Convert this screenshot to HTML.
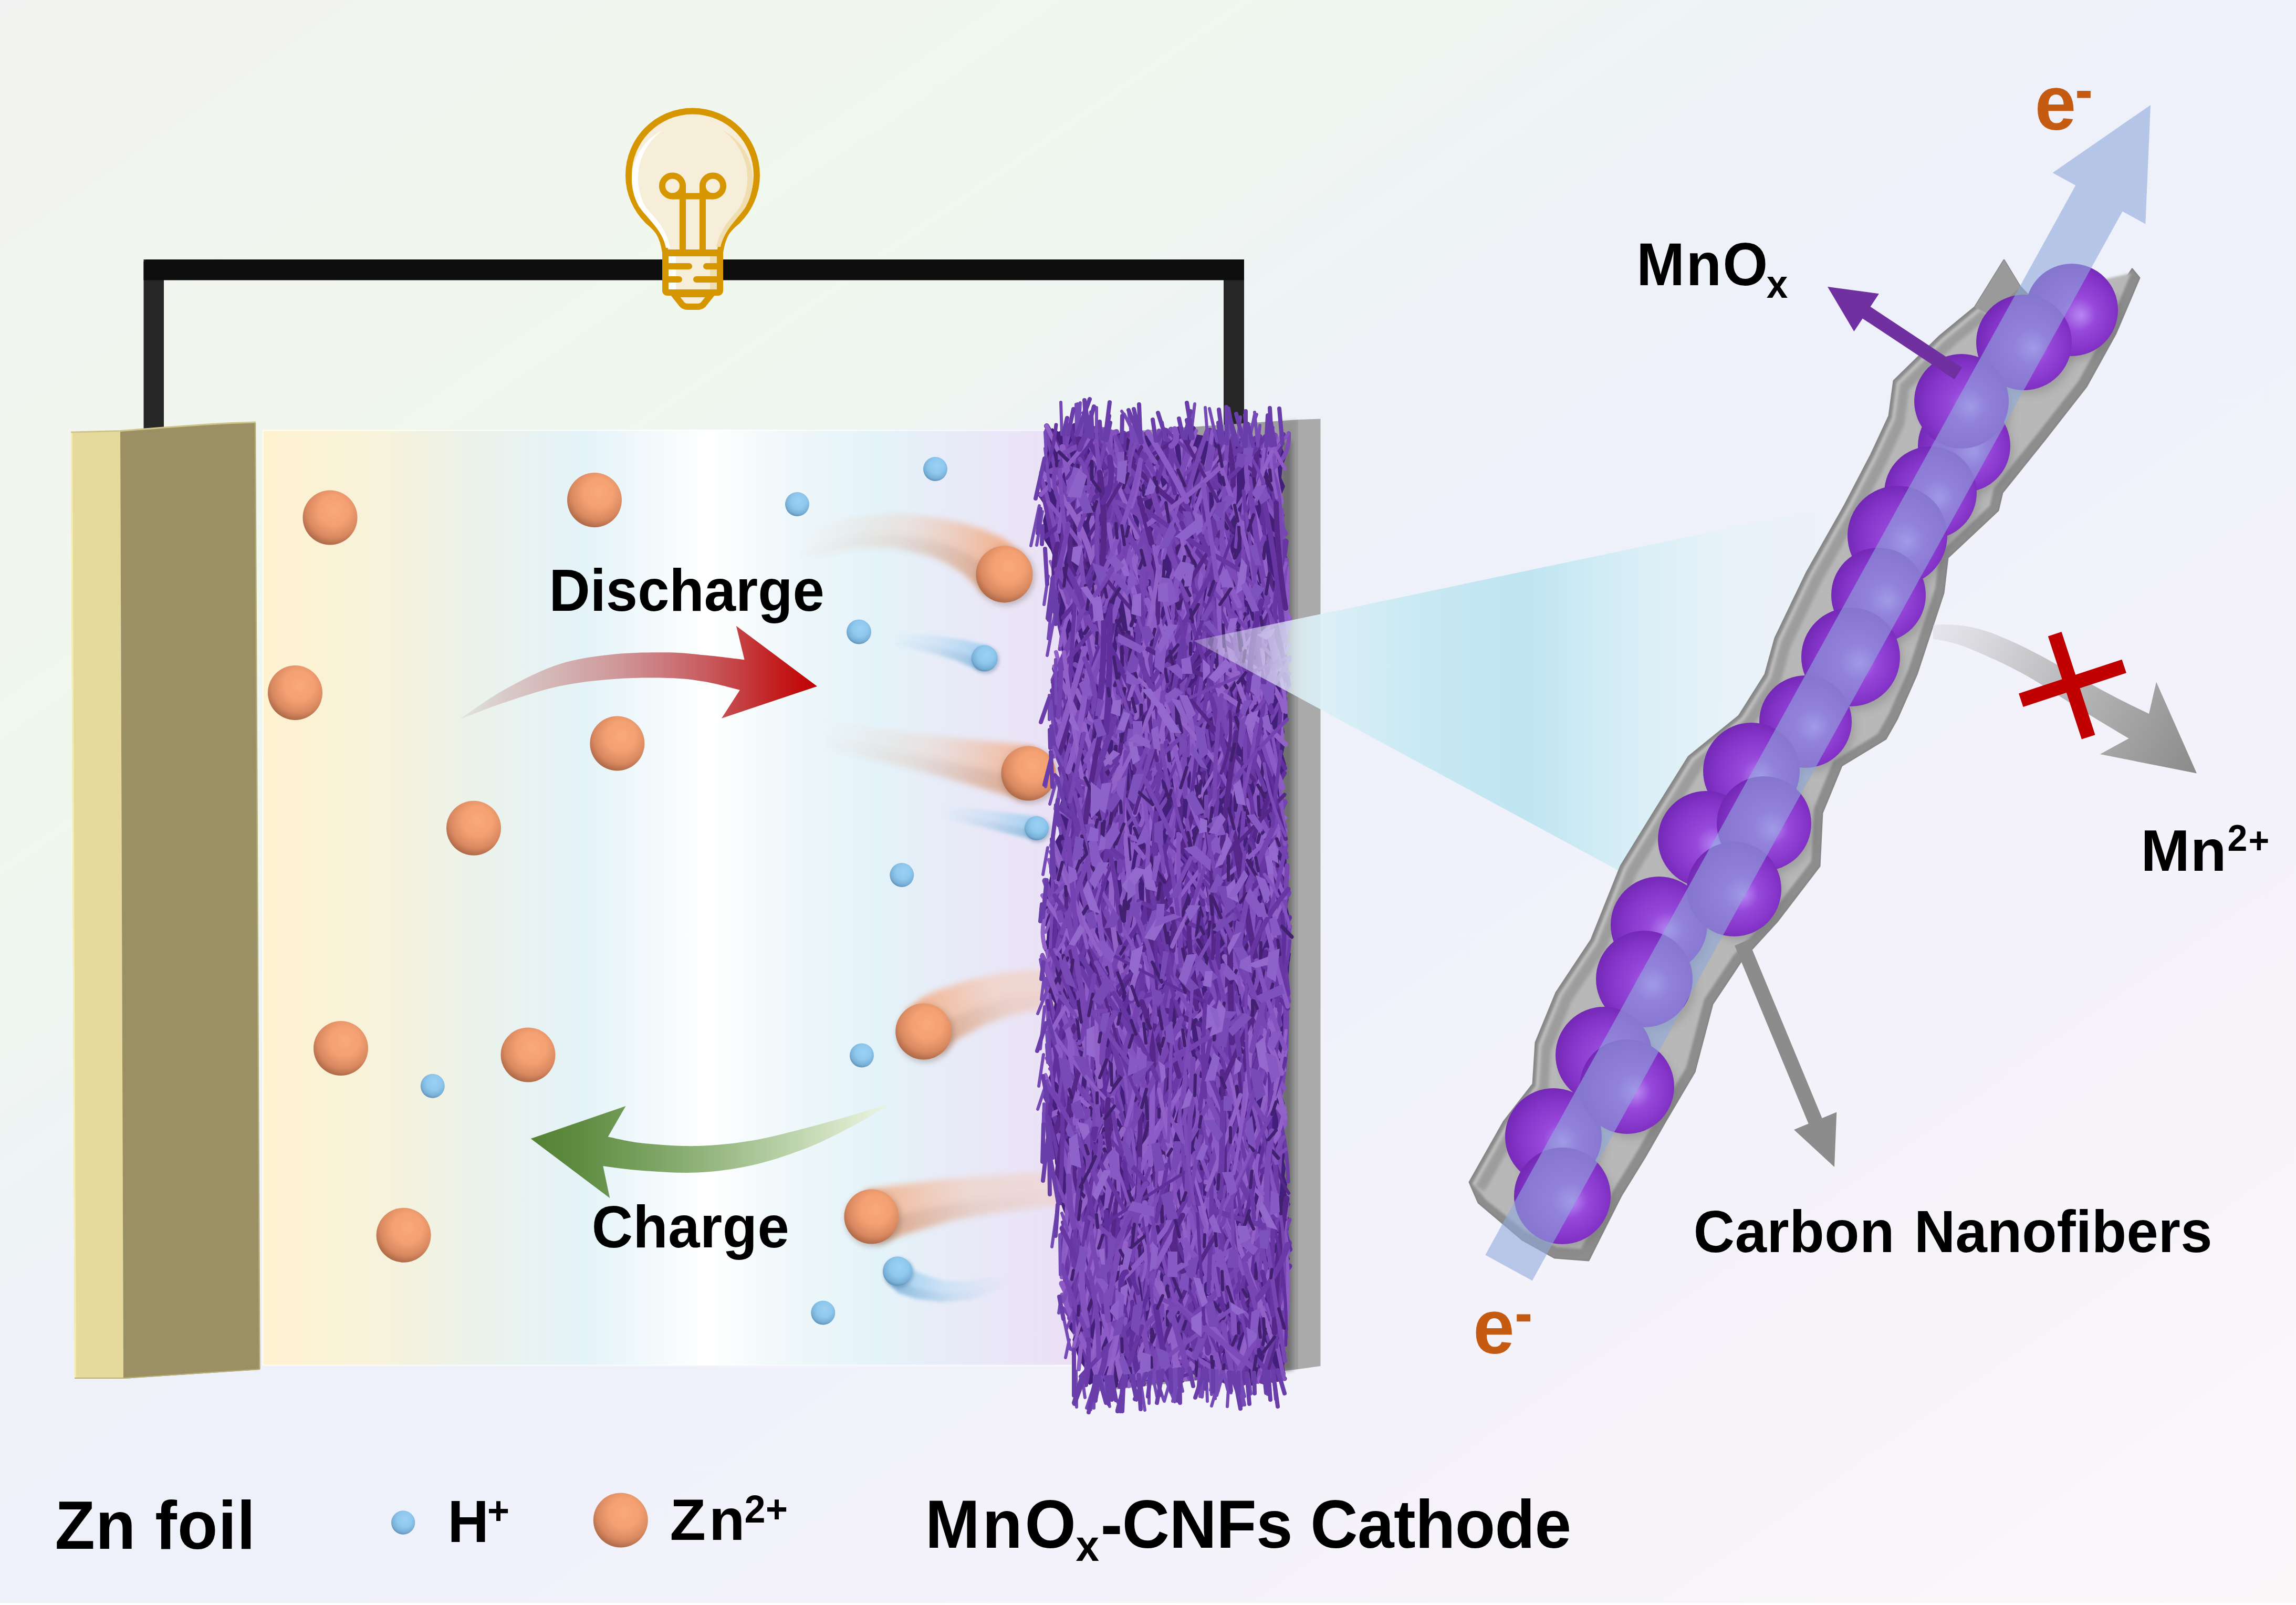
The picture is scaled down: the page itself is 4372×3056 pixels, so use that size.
<!DOCTYPE html>
<html><head><meta charset="utf-8"><title>Zn // MnOx-CNFs battery schematic</title>
<style>
html,body{margin:0;padding:0;background:#fff;}
body{width:4372px;height:3056px;overflow:hidden;}
svg{display:block;}
text{font-family:"Liberation Sans",sans-serif;font-weight:bold;}
</style></head><body>
<svg width="4372" height="3056" viewBox="0 0 4372 3056">
<defs>
<linearGradient id="bg" x1="0" y1="0" x2="1" y2="1">
<stop offset="0" stop-color="#f2f2f2"/><stop offset="0.055" stop-color="#f2f3f0"/>
<stop offset="0.25" stop-color="#f0f8ed"/><stop offset="0.42" stop-color="#eef2f7"/><stop offset="0.5" stop-color="#eef1fa"/>
<stop offset="0.70" stop-color="#f3f2fa"/><stop offset="1" stop-color="#fcf7f9"/>
</linearGradient>
<linearGradient id="elec" gradientUnits="userSpaceOnUse" x1="499" y1="0" x2="2031" y2="0">
<stop offset="0" stop-color="#fff2d0"/><stop offset="0.16" stop-color="#f6f2dc"/>
<stop offset="0.26" stop-color="#ecf2ea"/><stop offset="0.40" stop-color="#e4f3f8"/>
<stop offset="0.555" stop-color="#ffffff"/><stop offset="0.645" stop-color="#f0f8fa"/>
<stop offset="0.765" stop-color="#e4f3f9"/><stop offset="0.86" stop-color="#e8ebf8"/>
<stop offset="1" stop-color="#ebe0f6"/>
</linearGradient>
<radialGradient id="gO" cx="0.56" cy="0.38" r="0.62" fx="0.58" fy="0.36">
<stop offset="0" stop-color="#f9a97a"/><stop offset="0.45" stop-color="#f3a072"/>
<stop offset="0.8" stop-color="#d88860"/><stop offset="1" stop-color="#b06b49"/>
</radialGradient>
<radialGradient id="gB" cx="0.55" cy="0.38" r="0.62" fx="0.57" fy="0.36">
<stop offset="0" stop-color="#9bd0f3"/><stop offset="0.5" stop-color="#8fc8ee"/>
<stop offset="0.85" stop-color="#78afd6"/><stop offset="1" stop-color="#5f93b9"/>
</radialGradient>
<radialGradient id="gP" cx="0.52" cy="0.52" r="0.60" fx="0.60" fy="0.56">
<stop offset="0" stop-color="#b888f4"/><stop offset="0.30" stop-color="#9749da"/>
<stop offset="0.68" stop-color="#8534c9"/><stop offset="1" stop-color="#6a23aa"/>
</radialGradient>
<filter id="b4" x="-20%" y="-20%" width="140%" height="140%"><feGaussianBlur stdDeviation="4"/></filter>
<filter id="b8" x="-20%" y="-40%" width="140%" height="180%"><feGaussianBlur stdDeviation="8"/></filter>
<filter id="b14" x="-20%" y="-50%" width="140%" height="200%"><feGaussianBlur stdDeviation="13"/></filter>
<filter id="b6" x="-20%" y="-40%" width="140%" height="180%"><feGaussianBlur stdDeviation="6"/></filter>
<filter id="b3" x="-20%" y="-40%" width="140%" height="180%"><feGaussianBlur stdDeviation="3"/></filter>
<filter id="b2" x="-10%" y="-10%" width="120%" height="120%"><feGaussianBlur stdDeviation="2"/></filter>
</defs>
<rect x="0" y="0" width="4372" height="3056" fill="url(#bg)"/>
<rect x="0" y="3052" width="4372" height="4" fill="#ffffff"/>
<rect x="273.5" y="494" width="38.5" height="326" fill="#262626"/>
<rect x="2330" y="494" width="39" height="318" fill="#262626"/>
<path d="M273.5,498 L279,494 H2369 V533.5 H273.5 Z" fill="#0e0e0e"/>
<polygon points="2080,826 2472,799 2472,2607 2085,2650" fill="#9e9e9e"/>
<polygon points="2472,799 2514.5,797.5 2514.5,2601 2472,2607" fill="#aaaaaa"/>
<polygon points="2436,803 2468,800 2468,2607 2436,2611" fill="#8a8a8a" opacity="0.45" filter="url(#b3)"/>
<rect x="499" y="818" width="1546" height="1782" fill="url(#elec)"/>
<path d="M500.5,2600 V819.5 H2045" fill="none" stroke="#ffffff" stroke-width="2" opacity="0.8"/>
<path d="M500,2599.5 H2045" fill="none" stroke="#ffffff" stroke-width="2" opacity="0.7"/>
<polygon points="135,823 229,820 235,2625 142,2625" fill="#e5d99c"/>
<polygon points="135,823 138,823 145,2625 142,2625" fill="#f6ecab"/>
<path d="M229,820.5 C330,813 400,806 486.5,804 L495,2608 L235,2625 Z" fill="#9a9063"/>
<path d="M135,823 L229,820.5 C330,813 400,806 486.5,804" fill="none" stroke="#cfc58a" stroke-width="3"/>
<path d="M142,2624 L235,2624 L495,2607" fill="none" stroke="#b8ad74" stroke-width="2"/>
<path d="M486,805 L494.5,2607" fill="none" stroke="#b5ab78" stroke-width="2.5"/>
<linearGradient id="cg1" gradientUnits="userSpaceOnUse" x1="1912" y1="1094" x2="1517" y2="1049"><stop offset="0" stop-color="#f2ad86" stop-opacity="0.95"/><stop offset="0.5" stop-color="#ecd2c4" stop-opacity="0.45125"/><stop offset="1" stop-color="#ecd2c4" stop-opacity="0.0"/></linearGradient><linearGradient id="cs1" gradientUnits="userSpaceOnUse" x1="1912" y1="1094" x2="1517" y2="1049"><stop offset="0" stop-color="#8a6a5c" stop-opacity="0.22"/><stop offset="0.6" stop-color="#8a6a5c" stop-opacity="0.05"/><stop offset="1" stop-color="#8a6a5c" stop-opacity="0"/></linearGradient><path filter="url(#b6)" fill="url(#cg1)" d="M1947.6,1053.4L1910.6,1025.2L1872.8,1008.0L1829.1,994.5L1785.4,985.8L1704.8,977.0L1624.2,984.4L1547.2,1009.2L1509.7,1030.4L1524.3,1067.6L1562.8,1058.8L1633.8,1043.6L1701.2,1043.0L1770.6,1058.2L1800.9,1071.5L1831.2,1090.0L1849.4,1106.8L1876.4,1134.6Z"/><path filter="url(#b6)" fill="url(#cs1)" d="M1904.9,1102.1L1873.9,1074.2L1847.8,1057.2L1812.2,1040.7L1776.5,1029.2L1702.6,1016.6L1630.0,1019.9L1556.6,1039.0L1518.5,1052.7L1524.3,1067.6L1562.8,1058.8L1633.8,1043.6L1701.2,1043.0L1770.6,1058.2L1800.9,1071.5L1831.2,1090.0L1849.4,1106.8L1876.4,1134.6Z"/>
<linearGradient id="cg2" gradientUnits="userSpaceOnUse" x1="1959" y1="1472" x2="1567" y2="1395"><stop offset="0" stop-color="#f2ad86" stop-opacity="0.9"/><stop offset="0.5" stop-color="#ecd2c4" stop-opacity="0.4275"/><stop offset="1" stop-color="#ecd2c4" stop-opacity="0.0"/></linearGradient><linearGradient id="cs2" gradientUnits="userSpaceOnUse" x1="1959" y1="1472" x2="1567" y2="1395"><stop offset="0" stop-color="#8a6a5c" stop-opacity="0.22"/><stop offset="0.6" stop-color="#8a6a5c" stop-opacity="0.05"/><stop offset="1" stop-color="#8a6a5c" stop-opacity="0"/></linearGradient><path filter="url(#b6)" fill="url(#cg2)" d="M1969.4,1421.0L1909.0,1413.9L1827.4,1405.7L1746.3,1396.6L1665.4,1385.5L1609.9,1377.6L1573.5,1370.9L1560.5,1419.1L1598.1,1432.4L1654.6,1444.5L1733.7,1463.4L1812.6,1484.3L1891.0,1506.1L1948.6,1523.0Z"/><path filter="url(#b6)" fill="url(#cs2)" d="M1956.9,1482.2L1898.2,1469.2L1818.5,1452.9L1738.7,1436.7L1658.9,1420.9L1602.8,1410.5L1565.7,1399.8L1560.5,1419.1L1598.1,1432.4L1654.6,1444.5L1733.7,1463.4L1812.6,1484.3L1891.0,1506.1L1948.6,1523.0Z"/>
<linearGradient id="cg3" gradientUnits="userSpaceOnUse" x1="1759" y1="1964" x2="2040" y2="1883"><stop offset="0" stop-color="#f2ad86" stop-opacity="0.9"/><stop offset="0.5" stop-color="#f2cdbb" stop-opacity="0.6887500000000001"/><stop offset="1" stop-color="#f2cdbb" stop-opacity="0.55"/></linearGradient><linearGradient id="cs3" gradientUnits="userSpaceOnUse" x1="1759" y1="1964" x2="2040" y2="1883"><stop offset="0" stop-color="#8a6a5c" stop-opacity="0.22"/><stop offset="0.6" stop-color="#8a6a5c" stop-opacity="0.05"/><stop offset="1" stop-color="#8a6a5c" stop-opacity="0"/></linearGradient><path filter="url(#b6)" fill="url(#cg3)" d="M1724.8,1923.5L1755.4,1899.3L1787.4,1884.4L1843.0,1866.6L1897.6,1854.6L1952.1,1847.3L1992.6,1846.0L2039.2,1846.0L2040.8,1920.0L1995.4,1922.0L1961.9,1924.7L1916.4,1935.4L1873.0,1951.4L1828.6,1975.6L1814.6,1984.7L1793.2,2004.5Z"/><path filter="url(#b6)" fill="url(#cs3)" d="M1765.8,1972.1L1790.9,1950.5L1812.1,1939.1L1861.0,1917.5L1908.9,1903.1L1958.0,1893.7L1994.3,1891.6L2040.2,1890.4L2040.8,1920.0L1995.4,1922.0L1961.9,1924.7L1916.4,1935.4L1873.0,1951.4L1828.6,1975.6L1814.6,1984.7L1793.2,2004.5Z"/>
<linearGradient id="cg4" gradientUnits="userSpaceOnUse" x1="1659" y1="2316" x2="2040" y2="2262"><stop offset="0" stop-color="#f2ad86" stop-opacity="0.9"/><stop offset="0.5" stop-color="#f0cfc0" stop-opacity="0.64125"/><stop offset="1" stop-color="#f0cfc0" stop-opacity="0.45"/></linearGradient><linearGradient id="cs4" gradientUnits="userSpaceOnUse" x1="1659" y1="2316" x2="2040" y2="2262"><stop offset="0" stop-color="#8a6a5c" stop-opacity="0.22"/><stop offset="0.6" stop-color="#8a6a5c" stop-opacity="0.05"/><stop offset="1" stop-color="#8a6a5c" stop-opacity="0"/></linearGradient><path filter="url(#b6)" fill="url(#cg4)" d="M1647.6,2265.3L1720.3,2255.0L1801.8,2244.5L1903.2,2237.2L1979.5,2231.6L2038.3,2230.0L2041.7,2294.0L1984.5,2298.4L1910.8,2306.8L1814.2,2323.5L1739.7,2345.0L1670.4,2366.7Z"/><path filter="url(#b6)" fill="url(#cs4)" d="M1661.3,2326.1L1731.9,2309.0L1809.2,2291.9L1907.8,2279.0L1982.5,2271.7L2040.3,2268.4L2041.7,2294.0L1984.5,2298.4L1910.8,2306.8L1814.2,2323.5L1739.7,2345.0L1670.4,2366.7Z"/>
<linearGradient id="cg5" gradientUnits="userSpaceOnUse" x1="1875" y1="1254" x2="1698" y2="1218"><stop offset="0" stop-color="#9ccdf0" stop-opacity="0.95"/><stop offset="0.5" stop-color="#b4d8f2" stop-opacity="0.45125"/><stop offset="1" stop-color="#b4d8f2" stop-opacity="0.0"/></linearGradient><linearGradient id="cs5" gradientUnits="userSpaceOnUse" x1="1875" y1="1254" x2="1698" y2="1218"><stop offset="0" stop-color="#5580a8" stop-opacity="0.22"/><stop offset="0.6" stop-color="#5580a8" stop-opacity="0.05"/><stop offset="1" stop-color="#5580a8" stop-opacity="0"/></linearGradient><path filter="url(#b3)" fill="url(#cg5)" d="M1883.1,1230.3L1833.6,1217.8L1781.0,1210.3L1729.5,1207.1L1698.6,1209.0L1697.4,1227.0L1726.5,1232.9L1775.0,1243.7L1822.4,1258.2L1866.9,1277.7Z"/><path filter="url(#b3)" fill="url(#cs5)" d="M1873.4,1258.7L1826.9,1242.0L1777.4,1230.3L1727.7,1222.6L1697.9,1219.8L1697.4,1227.0L1726.5,1232.9L1775.0,1243.7L1822.4,1258.2L1866.9,1277.7Z"/>
<linearGradient id="cg6" gradientUnits="userSpaceOnUse" x1="1974" y1="1577" x2="1790" y2="1543"><stop offset="0" stop-color="#9ccdf0" stop-opacity="0.95"/><stop offset="0.5" stop-color="#b4d8f2" stop-opacity="0.45125"/><stop offset="1" stop-color="#b4d8f2" stop-opacity="0.0"/></linearGradient><linearGradient id="cs6" gradientUnits="userSpaceOnUse" x1="1974" y1="1577" x2="1790" y2="1543"><stop offset="0" stop-color="#5580a8" stop-opacity="0.22"/><stop offset="0.6" stop-color="#5580a8" stop-opacity="0.05"/><stop offset="1" stop-color="#5580a8" stop-opacity="0"/></linearGradient><path filter="url(#b3)" fill="url(#cg6)" d="M1977.9,1555.4L1933.6,1549.3L1883.0,1543.3L1842.3,1539.2L1805.2,1536.2L1792.4,1535.4L1787.6,1550.6L1800.8,1557.8L1837.7,1566.8L1877.0,1576.7L1926.4,1588.7L1970.1,1598.6Z"/><path filter="url(#b3)" fill="url(#cs6)" d="M1973.2,1581.3L1929.3,1572.9L1879.4,1563.3L1839.5,1555.8L1802.6,1549.2L1789.5,1544.5L1787.6,1550.6L1800.8,1557.8L1837.7,1566.8L1877.0,1576.7L1926.4,1588.7L1970.1,1598.6Z"/>
<linearGradient id="cg7" gradientUnits="userSpaceOnUse" x1="1709" y1="2420" x2="1915" y2="2436"><stop offset="0" stop-color="#9ccdf0" stop-opacity="0.95"/><stop offset="0.5" stop-color="#b4d8f2" stop-opacity="0.45125"/><stop offset="1" stop-color="#b4d8f2" stop-opacity="0.0"/></linearGradient><linearGradient id="cs7" gradientUnits="userSpaceOnUse" x1="1709" y1="2420" x2="1915" y2="2436"><stop offset="0" stop-color="#5580a8" stop-opacity="0.22"/><stop offset="0.6" stop-color="#5580a8" stop-opacity="0.05"/><stop offset="1" stop-color="#5580a8" stop-opacity="0"/></linearGradient><path filter="url(#b3)" fill="url(#cg7)" d="M1730.9,2402.5L1739.9,2418.7L1758.2,2426.8L1797.5,2439.1L1842.5,2439.2L1884.0,2432.6L1912.2,2428.5L1917.8,2443.5L1892.0,2459.4L1847.5,2474.8L1794.5,2478.9L1745.8,2473.2L1710.1,2461.3L1687.1,2437.5Z"/><path filter="url(#b3)" fill="url(#cs7)" d="M1704.6,2423.5L1722.0,2444.3L1750.8,2454.6L1795.7,2463.0L1845.5,2460.6L1888.8,2448.7L1915.6,2437.5L1917.8,2443.5L1892.0,2459.4L1847.5,2474.8L1794.5,2478.9L1745.8,2473.2L1710.1,2461.3L1687.1,2437.5Z"/>
<circle cx="1915.5" cy="1097.4" r="55" fill="#6e5648" opacity="0.35" filter="url(#b6)"/>
<circle cx="1961.5" cy="1476.5" r="53" fill="#6e5648" opacity="0.35" filter="url(#b6)"/>
<circle cx="1761.7" cy="1968" r="54.5" fill="#6e5648" opacity="0.35" filter="url(#b6)"/>
<circle cx="1662.4" cy="2320.4" r="53" fill="#6e5648" opacity="0.35" filter="url(#b6)"/>
<circle cx="1876.7" cy="1256.5" r="26" fill="#456a8a" opacity="0.35" filter="url(#b3)"/>
<circle cx="1976" cy="1580" r="24" fill="#456a8a" opacity="0.35" filter="url(#b3)"/>
<circle cx="1711" cy="2423.5" r="29" fill="#456a8a" opacity="0.35" filter="url(#b3)"/>
<circle cx="628.5" cy="985.5" r="52" fill="url(#gO)"/>
<circle cx="1132" cy="952" r="52" fill="url(#gO)"/>
<circle cx="562" cy="1319" r="52" fill="url(#gO)"/>
<circle cx="1175.4" cy="1415.5" r="52" fill="url(#gO)"/>
<circle cx="902" cy="1576.7" r="52" fill="url(#gO)"/>
<circle cx="649" cy="1996" r="52" fill="url(#gO)"/>
<circle cx="1005.5" cy="2008.4" r="52" fill="url(#gO)"/>
<circle cx="768.6" cy="2351.8" r="52" fill="url(#gO)"/>
<circle cx="1912.5" cy="1093.4" r="54" fill="url(#gO)"/>
<circle cx="1958.5" cy="1472.5" r="52" fill="url(#gO)"/>
<circle cx="1758.7" cy="1964" r="53.5" fill="url(#gO)"/>
<circle cx="1659.4" cy="2316.4" r="52" fill="url(#gO)"/>
<circle cx="1518" cy="960" r="23" fill="url(#gB)"/>
<circle cx="1781" cy="893" r="23" fill="url(#gB)"/>
<circle cx="1635.5" cy="1203" r="23.5" fill="url(#gB)"/>
<circle cx="1874.7" cy="1253.5" r="25" fill="url(#gB)"/>
<circle cx="1974" cy="1577" r="23" fill="url(#gB)"/>
<circle cx="1717.3" cy="1666" r="23" fill="url(#gB)"/>
<circle cx="1641" cy="2009.5" r="23" fill="url(#gB)"/>
<circle cx="823.8" cy="2067.8" r="23" fill="url(#gB)"/>
<circle cx="1709" cy="2420.5" r="28" fill="url(#gB)"/>
<circle cx="1567.3" cy="2499.4" r="23" fill="url(#gB)"/>
<linearGradient id="gRed" gradientUnits="userSpaceOnUse" x1="876" y1="0" x2="1558" y2="0">
<stop offset="0" stop-color="#cfc4c0" stop-opacity="0.3"/><stop offset="0.12" stop-color="#d6c4c2" stop-opacity="0.85"/>
<stop offset="0.28" stop-color="#d3b2b2"/><stop offset="0.43" stop-color="#cf999b"/><stop offset="0.58" stop-color="#cb7679"/>
<stop offset="0.69" stop-color="#c75a5d"/><stop offset="0.80" stop-color="#c43a3c"/><stop offset="0.89" stop-color="#c21c1d"/><stop offset="1" stop-color="#c00000"/></linearGradient>
<path fill="url(#gRed)" d="M875.7,1369.5C889.7,1360.2 928.0,1331.2 959.4,1313.8C990.8,1296.4 1029.1,1276.3 1063.9,1265.0C1098.7,1253.7 1133.6,1249.6 1168.4,1245.8C1203.2,1242.0 1244.0,1242.0 1273.0,1242.3C1302.0,1242.6 1318.5,1245.3 1342.6,1247.6C1366.7,1249.9 1405.1,1254.8 1417.6,1256.3L1401.9,1191.8L1555.9,1306.8L1374,1367.8L1408.9,1313.8C1397.9,1311.2 1365.2,1301.8 1342.6,1298.0C1319.9,1294.2 1302.0,1291.8 1273.0,1291.0C1244.0,1290.2 1203.2,1290.3 1168.4,1292.9C1133.6,1295.5 1098.7,1299.3 1063.9,1306.8C1029.1,1314.3 990.8,1327.5 959.4,1338.0C928.0,1348.5 889.7,1364.2 875.7,1369.5Z"/>
<linearGradient id="gGrn" gradientUnits="userSpaceOnUse" x1="1010.7" y1="0" x2="1699.5" y2="0">
<stop offset="0" stop-color="#548235"/><stop offset="0.13" stop-color="#5f8b41"/><stop offset="0.31" stop-color="#78a05e"/>
<stop offset="0.46" stop-color="#8fb279"/><stop offset="0.61" stop-color="#a9c596"/><stop offset="0.765" stop-color="#c4d9b4"/>
<stop offset="0.89" stop-color="#dbe9cd"/><stop offset="1" stop-color="#eaf3df" stop-opacity="0.7"/></linearGradient>
<path fill="url(#gGrn)" d="M1699.5,2100.0C1687.0,2103.8 1651.6,2114.9 1624.6,2122.7C1597.6,2130.5 1569.4,2138.9 1537.5,2147.0C1505.6,2155.1 1467.8,2165.7 1433.0,2171.5C1398.2,2177.3 1363.2,2181.1 1328.4,2182.0C1293.6,2182.9 1252.4,2179.6 1223.9,2176.7C1195.5,2173.8 1168.7,2166.5 1157.7,2164.5L1191.5,2106L1010.7,2168L1161.2,2281.3L1148.3,2220.3C1160.9,2221.8 1193.9,2227.0 1223.9,2229.0C1253.9,2231.0 1293.6,2234.2 1328.4,2232.5C1363.2,2230.8 1398.2,2226.3 1433.0,2218.5C1467.8,2210.7 1505.6,2197.9 1537.5,2185.4C1569.4,2172.9 1597.6,2157.8 1624.6,2143.6C1651.6,2129.4 1687.0,2107.3 1699.5,2100.0Z"/>

<rect x="2438" y="840" width="22" height="1770" fill="#444" opacity="0.45" filter="url(#b4)"/>
<polygon fill="#431f7c" points="2003,815 2016,822 2028,815 2041,810 2054,818 2068,812 2080,814 2094,826 2104,833 2119,830 2133,824 2142,830 2151,825 2162,823 2174,829 2189,829 2202,827 2216,824 2227,832 2243,828 2257,819 2268,819 2277,827 2289,829 2301,833 2315,820 2326,836 2338,840 2350,827 2363,840 2374,830 2386,845 2400,831 2411,830 2420,840 2430,835 2442,828 2443,820 2442,838 2442,855 2449,869 2442,889 2440,910 2447,926 2439,945 2440,966 2446,981 2442,996 2440,1009 2442,1027 2445,1045 2451,1061 2448,1078 2446,1099 2454,1113 2448,1133 2454,1147 2449,1168 2456,1189 2452,1208 2448,1221 2450,1242 2450,1261 2453,1281 2448,1296 2446,1316 2451,1330 2450,1350 2452,1365 2443,1379 2446,1394 2443,1407 2446,1422 2443,1436 2449,1456 2445,1475 2439,1493 2438,1505 2445,1526 2439,1548 2444,1566 2443,1586 2441,1608 2449,1625 2450,1646 2452,1665 2448,1686 2455,1705 2451,1726 2456,1746 2454,1763 2454,1779 2449,1797 2458,1816 2455,1837 2454,1852 2451,1870 2446,1891 2445,1910 2448,1928 2450,1942 2448,1959 2443,1981 2443,1993 2441,2012 2448,2025 2443,2044 2441,2065 2440,2083 2446,2100 2447,2121 2445,2137 2441,2152 2449,2169 2449,2189 2445,2211 2448,2225 2446,2239 2451,2255 2449,2272 2457,2293 2448,2309 2456,2322 2455,2334 2451,2352 2448,2372 2452,2385 2456,2397 2449,2412 2453,2424 2452,2441 2453,2459 2451,2481 2448,2495 2443,2508 2449,2525 2444,2539 2447,2554 2446,2572 2443,2591 2447,2611 2447,2624 2448,2613 2436,2623 2420,2621 2407,2631 2393,2633 2381,2629 2370,2630 2355,2628 2341,2620 2326,2631 2310,2622 2296,2617 2280,2625 2269,2612 2257,2619 2243,2619 2233,2625 2224,2626 2214,2620 2199,2619 2189,2627 2175,2634 2161,2638 2149,2640 2139,2629 2126,2631 2112,2637 2100,2639 2087,2630 2075,2637 2063,2628 2067,2607 2055,2590 2050,2576 2046,2559 2048,2547 2036,2530 2035,2510 2034,2493 2031,2480 2035,2464 2025,2443 2023,2426 2033,2410 2028,2389 2024,2374 2034,2355 2032,2342 2023,2330 2029,2316 2023,2300 2017,2282 2014,2263 2013,2246 2014,2232 2009,2215 2008,2199 2001,2186 2004,2167 2004,2150 2002,2132 2000,2118 2001,2098 1993,2082 1992,2061 2003,2039 1995,2026 1997,2007 2005,1994 2006,1977 2001,1964 1996,1945 2005,1931 2008,1910 2000,1897 1998,1877 1992,1859 1989,1846 1994,1833 1992,1816 1985,1803 1993,1789 1994,1767 1982,1754 1988,1732 1988,1713 1993,1696 1997,1680 2000,1668 1997,1647 2008,1631 2003,1615 2010,1601 2017,1589 2017,1569 2018,1548 2018,1532 2024,1515 2013,1495 2019,1474 2018,1454 2018,1438 2013,1417 2013,1398 2011,1382 2006,1369 2001,1352 2010,1337 2006,1318 2014,1297 2015,1282 2015,1264 2023,1248 2020,1230 2025,1210 2021,1198 2015,1178 2012,1162 2015,1148 2012,1135 2013,1114 2016,1097 2012,1080 2006,1061 2001,1048 1989,1029 1988,1008 1986,991 1991,974 1995,961 1989,945 1987,927 1992,912 1988,895 1990,875 1990,863 1990,851 1995,831"/>
<path fill="none" stroke="#552789" stroke-width="9" stroke-linecap="round" d="M2064,1680Q2033,1751 2030,1818M2440,2187Q2419,2242 2433,2299M2155,2441Q2159,2539 2172,2631M2058,848Q2074,953 2097,1061M2269,2298Q2301,2355 2307,2425"/>
<path fill="none" stroke="#6a3aa7" stroke-width="8" stroke-linecap="round" d="M2130,915Q2113,953 2123,1004M2100,1693Q2116,1780 2118,1864M2253,1861Q2183,1942 2112,2020M2282,2322Q2313,2425 2320,2539M2128,1162Q2159,1267 2177,1376M2301,1841Q2320,1881 2330,1931M2359,1533Q2350,1583 2343,1642M2133,1087Q2146,1124 2149,1165M2206,2021Q2188,2154 2209,2280M2337,1784Q2337,1895 2334,2021M2139,1248Q2182,1284 2210,1315M2270,2355Q2295,2470 2297,2585M2284,2394Q2318,2462 2366,2516M2175,2483Q2163,2536 2153,2593M2386,1895Q2423,2014 2447,2134M2140,824Q2140,857 2104,880M2143,902Q2127,931 2099,948M2205,2079Q2187,2131 2151,2198M2161,2497Q2129,2534 2104,2571"/>
<path fill="none" stroke="#7d4bb8" stroke-width="9" stroke-linecap="round" d="M2011,1537Q2080,1586 2136,1635M2350,1502Q2351,1536 2352,1571M2242,1929Q2256,1994 2269,2051M2440,971Q2448,1092 2450,1208M2096,955Q2144,1062 2166,1175M2258,978Q2289,1076 2341,1185M2195,1925Q2201,1961 2201,2014M2251,1723Q2281,1772 2314,1830M2203,1754Q2172,1868 2146,1981"/>
<path fill="none" stroke="#5f309c" stroke-width="9" stroke-linecap="round" d="M2307,2465Q2289,2513 2270,2554M2284,1048Q2268,1151 2249,1266M2333,2262Q2318,2384 2302,2509"/>
<path fill="none" stroke="#8d5bc5" stroke-width="6" stroke-linecap="round" d="M2132,1025Q2133,1114 2117,1222M2062,1265Q2064,1381 2075,1492M2396,2209Q2385,2310 2351,2426M2022,2336Q2043,2427 2067,2508M2144,1429Q2124,1563 2131,1673M2373,1064Q2407,1124 2455,1186M2201,1799Q2195,1841 2170,1863M2367,1751Q2379,1803 2387,1840M2429,829Q2390,893 2374,966"/>
<path fill="none" stroke="#9362c9" stroke-width="7" stroke-linecap="round" d="M2297,2079Q2298,2161 2284,2248M2434,2061Q2389,2152 2364,2249M2189,861Q2209,915 2216,960M2338,1097Q2306,1168 2268,1235M2354,2472Q2381,2529 2420,2573"/>
<path fill="none" stroke="#8d5bc5" stroke-width="11" stroke-linecap="round" d="M2024,2177Q2071,2232 2122,2282M2319,2536Q2318,2572 2327,2606M2455,1177Q2423,1255 2412,1329M2453,1887Q2413,1994 2363,2104M2089,2041Q2105,2090 2127,2124M2391,1243Q2380,1286 2384,1340M2022,2444Q2069,2538 2094,2640"/>
<path fill="none" stroke="#7443b1" stroke-width="6" stroke-linecap="round" d="M2393,2140Q2431,2256 2456,2373M2009,925Q2035,955 2078,978M2042,1357Q2079,1419 2110,1487M2196,1622Q2226,1681 2276,1747M2201,999Q2223,1049 2245,1098M2068,2414Q2073,2521 2066,2637M2207,1625Q2172,1740 2173,1862M2416,2291Q2387,2357 2359,2410M2128,2503Q2140,2565 2172,2635M2384,1636Q2303,1723 2235,1798"/>
<path fill="none" stroke="#6736a3" stroke-width="6" stroke-linecap="round" d="M2349,828Q2337,926 2342,1016M2131,2590Q2137,2627 2157,2638M2258,1081Q2282,1142 2310,1193M2194,2398Q2277,2495 2370,2586M2145,1361Q2074,1465 2009,1561M2015,1747Q2006,1788 2004,1820M2012,1166Q2029,1278 2097,1392M2375,831Q2336,849 2326,861M2423,935Q2432,997 2451,1080M2221,819Q2195,886 2169,952M2336,1256Q2340,1339 2352,1413M2341,1595Q2324,1711 2265,1829"/>
<path fill="none" stroke="#6736a3" stroke-width="7" stroke-linecap="round" d="M2274,1155Q2256,1193 2258,1230M2333,1687Q2330,1726 2358,1767M2271,1645Q2215,1745 2179,1846M2091,931Q2073,1004 2087,1091M2263,1912Q2245,2026 2206,2153"/>
<path fill="none" stroke="#6a3aa7" stroke-width="6" stroke-linecap="round" d="M2023,2327Q2048,2422 2067,2506M2003,1323Q2013,1426 2048,1524M2276,1373Q2303,1495 2318,1616M2246,817Q2198,912 2180,1020M2082,2028Q2073,2076 2080,2128M2351,1979Q2316,2050 2286,2127M2393,1415Q2397,1515 2450,1626M2022,2348Q2035,2408 2050,2476M2285,1293Q2276,1367 2257,1433"/>
<path fill="none" stroke="#7443b1" stroke-width="11" stroke-linecap="round" d="M2447,1867Q2454,1986 2438,2081M2297,910Q2286,959 2297,1000M2404,1238Q2307,1320 2222,1414M2059,1898Q2084,1958 2093,2003M2155,1937Q2190,1992 2216,2051M2031,809Q2021,863 2057,932M2209,1777Q2196,1851 2197,1921M2288,1391Q2271,1479 2263,1578"/>
<path fill="none" stroke="#7846b3" stroke-width="11" stroke-linecap="round" d="M2249,2575Q2257,2596 2260,2624M2048,1394Q2089,1478 2134,1575M1990,1677Q2025,1778 2050,1866M2344,1232Q2334,1262 2334,1294M1996,1961Q2083,2008 2147,2040M2377,831Q2400,930 2447,1016M2154,2089Q2138,2154 2122,2223"/>
<path fill="none" stroke="#6736a3" stroke-width="11" stroke-linecap="round" d="M2448,1031Q2433,1145 2424,1269M2235,1603Q2221,1693 2220,1780M2347,1967Q2320,2064 2287,2152M2069,816Q2111,864 2159,916M2297,2378Q2329,2417 2344,2444M2248,2487Q2264,2538 2260,2610M2300,1030Q2357,1096 2414,1165"/>
<path fill="none" stroke="#9362c9" stroke-width="9" stroke-linecap="round" d="M2283,1630Q2289,1683 2300,1732M2072,1262Q2060,1336 2060,1410M2442,1560Q2422,1624 2433,1688M2447,1304Q2435,1358 2441,1403"/>
<path fill="none" stroke="#8553bf" stroke-width="10" stroke-linecap="round" d="M2299,2101Q2305,2150 2293,2189M2137,1218Q2118,1293 2074,1403M2338,839Q2355,900 2349,958M2191,2170Q2222,2274 2257,2375M2009,1478Q2070,1554 2131,1640M2383,1198Q2388,1220 2371,1258M2230,934Q2208,1004 2160,1088M2151,2082Q2160,2150 2180,2209"/>
<path fill="none" stroke="#8553bf" stroke-width="7" stroke-linecap="round" d="M2279,1843Q2287,1898 2297,1975M1993,2015Q2059,2114 2132,2212M2172,1542Q2187,1584 2185,1627M2374,2138Q2403,2268 2415,2390M2185,1746Q2194,1801 2227,1848M2348,2392Q2376,2474 2387,2571M2353,2028Q2301,2126 2273,2237M2058,2260Q2078,2340 2077,2395M2200,1389Q2190,1487 2194,1571M2320,823Q2341,869 2324,898"/>
<path fill="none" stroke="#6736a3" stroke-width="10" stroke-linecap="round" d="M2055,2377Q2050,2425 2065,2482M1990,2086Q2016,2142 2041,2218M2079,2257Q2122,2362 2168,2471M2022,2382Q2043,2477 2070,2590M2231,1996Q2240,2099 2260,2201M2025,1604Q2039,1637 2040,1663"/>
<path fill="none" stroke="#7846b3" stroke-width="10" stroke-linecap="round" d="M2263,1850Q2240,1898 2272,1940M2124,2485Q2130,2555 2140,2627M2440,2098Q2439,2213 2426,2334M2168,1369Q2115,1440 2065,1519M2336,826Q2297,906 2257,980M2174,958Q2201,1074 2238,1160M2086,2055Q2101,2105 2083,2172M2209,1305Q2182,1370 2173,1423M2129,2275Q2092,2309 2069,2358"/>
<path fill="none" stroke="#5f309c" stroke-width="8" stroke-linecap="round" d="M2107,1867Q2102,1915 2137,1967M2273,2224Q2287,2246 2317,2278M2031,1946Q2026,1978 2027,2011M2038,929Q2067,1022 2076,1107M2099,2248Q2067,2323 2046,2391M2444,827Q2422,923 2396,1007M2336,1214Q2344,1270 2365,1349M2204,2246Q2226,2338 2273,2436M2342,1263Q2292,1352 2252,1447M2256,1766Q2246,1838 2221,1911M2241,1558Q2226,1628 2222,1698M2135,849Q2200,941 2252,1032M2371,1188Q2344,1241 2351,1307M2105,1261Q2123,1329 2171,1397M2008,1726Q2015,1805 1993,1890M2250,816Q2167,895 2106,980M2170,1320Q2164,1362 2150,1388M2030,1838Q2026,1917 2016,1972M2141,1382Q2146,1483 2166,1566M2131,2277Q2130,2313 2138,2340M2319,1617Q2279,1711 2252,1803M2088,1957Q2099,2053 2135,2126"/>
<path fill="none" stroke="#9362c9" stroke-width="10" stroke-linecap="round" d="M2245,1822Q2261,1899 2266,1978M2208,1675Q2209,1706 2220,1741M2248,2104Q2217,2208 2192,2319M2083,2077Q2034,2109 1991,2128M2053,2311Q2091,2379 2118,2436M2169,2397Q2136,2417 2116,2426M2270,2474Q2236,2538 2234,2609M2217,2145Q2230,2251 2243,2362M2030,1761Q2021,1846 2034,1941M2277,2120Q2299,2186 2296,2250"/>
<path fill="none" stroke="#8d5bc5" stroke-width="10" stroke-linecap="round" d="M2222,1612Q2243,1660 2280,1720M2230,834Q2238,917 2278,1005M1995,1812Q2021,1917 2053,2020M2152,1000Q2140,1051 2093,1124M2404,2456Q2380,2517 2365,2574M2126,1004Q2149,1088 2170,1166M2140,2263Q2146,2351 2149,2414M2305,1767Q2317,1840 2304,1900M2099,1546Q2113,1585 2116,1611"/>
<path fill="none" stroke="#8553bf" stroke-width="8" stroke-linecap="round" d="M2044,1098Q2042,1154 2022,1198M2077,1099Q2062,1148 2066,1182M2265,1112Q2273,1175 2276,1237M2431,1881Q2410,1963 2402,2062M2283,2202Q2280,2310 2309,2430M2104,1725Q2121,1853 2127,1982M2213,2075Q2232,2201 2269,2327M2368,1375Q2321,1468 2301,1562M2379,1591Q2399,1660 2414,1716M2063,1732Q2059,1765 2062,1815M2366,1384Q2369,1426 2384,1467M2377,870Q2392,934 2430,988M2362,1878Q2393,1981 2446,2073M2108,2530Q2119,2562 2125,2622M2250,816Q2274,885 2266,971M2335,2223Q2298,2300 2277,2352M2302,1867Q2249,1888 2181,1915M2313,2343Q2310,2467 2291,2582M2267,2321Q2288,2387 2322,2454"/>
<path fill="none" stroke="#552789" stroke-width="10" stroke-linecap="round" d="M2279,1300Q2203,1384 2162,1493M2134,1960Q2112,2032 2076,2092M2236,1464Q2250,1509 2233,1563M2258,2445Q2295,2517 2308,2591M2272,816Q2265,855 2246,912M2182,1568Q2192,1641 2195,1712M2396,2218Q2408,2268 2426,2307"/>
<path fill="none" stroke="#6a3aa7" stroke-width="11" stroke-linecap="round" d="M2103,2038Q2106,2093 2099,2155M2246,1205Q2187,1259 2146,1317M2104,1358Q2103,1473 2091,1582M2185,1039Q2125,1121 2040,1208M2099,1228Q2171,1333 2205,1431M2377,1203Q2395,1243 2424,1266M2140,1742Q2145,1807 2165,1868M2054,1903Q2034,1961 2016,2029M2302,2288Q2312,2373 2353,2444"/>
<path fill="none" stroke="#6736a3" stroke-width="8" stroke-linecap="round" d="M2127,1950Q2135,2029 2128,2094M2116,1504Q2087,1564 2068,1621M2080,1722Q2145,1820 2198,1916M2244,816Q2247,840 2262,870M2340,1734Q2313,1819 2258,1905M2211,2504Q2181,2566 2162,2637M2160,2172Q2136,2229 2140,2294M2315,1850Q2321,1962 2337,2063M2368,1332Q2325,1396 2289,1466M2297,1345Q2305,1377 2310,1407M2275,1059Q2266,1121 2235,1199"/>
<path fill="none" stroke="#8553bf" stroke-width="11" stroke-linecap="round" d="M2363,2418Q2343,2457 2364,2506M2369,1251Q2341,1291 2328,1331M2419,1657Q2420,1743 2428,1831M2130,1743Q2107,1809 2082,1871M2327,1033Q2305,1083 2279,1126M2148,1976Q2178,2053 2197,2134M2358,1445Q2356,1492 2351,1541M2327,2398Q2242,2491 2182,2584M2368,1068Q2395,1186 2386,1294M2236,1277Q2281,1401 2272,1534"/>
<path fill="none" stroke="#5f309c" stroke-width="10" stroke-linecap="round" d="M2227,1573Q2259,1620 2292,1670M1993,811Q2042,898 2070,988M2073,1484Q2044,1510 2030,1531M2163,1040Q2157,1067 2141,1105M2292,960Q2300,1014 2320,1091M2181,1796Q2198,1845 2206,1911M2139,1735Q2127,1799 2135,1867M2401,2000Q2420,2087 2403,2178"/>
<path fill="none" stroke="#8d5bc5" stroke-width="8" stroke-linecap="round" d="M2207,1343Q2184,1449 2161,1537M2252,2308Q2194,2344 2151,2382M2447,2141Q2382,2244 2357,2354M2236,1985Q2233,2074 2216,2174M2140,1024Q2137,1147 2100,1277M2127,1374Q2126,1493 2149,1596M2213,1108Q2208,1164 2199,1227M2137,899Q2136,947 2145,1011M2249,1555Q2274,1581 2266,1621M2076,2419Q2063,2509 2054,2607M2133,1730Q2141,1851 2167,1980M2242,1419Q2263,1446 2248,1484M2184,1586Q2183,1666 2189,1750M2078,1224Q2115,1333 2128,1427M2160,1575Q2153,1676 2115,1780M2284,1625Q2229,1694 2173,1762"/>
<path fill="none" stroke="#7d4bb8" stroke-width="6" stroke-linecap="round" d="M2423,2511Q2387,2562 2367,2633M2236,2231Q2261,2295 2279,2337M2226,2338Q2228,2393 2244,2452M2111,1390Q2084,1431 2058,1474M2211,1481Q2173,1543 2110,1612M2262,1033Q2250,1129 2222,1216"/>
<path fill="none" stroke="#9362c9" stroke-width="11" stroke-linecap="round" d="M2121,2299Q2137,2378 2106,2445M2274,855Q2255,897 2214,936M2246,816Q2260,870 2253,927M2278,2509Q2284,2568 2263,2624M2308,2484Q2276,2554 2259,2624M2253,1008Q2246,1093 2260,1187M2427,829Q2422,895 2439,955M2364,995Q2414,1083 2453,1175M2348,1505Q2394,1588 2452,1670M2400,833Q2416,896 2438,949M2130,2412Q2170,2510 2197,2597M2175,2368Q2203,2469 2227,2557M2106,2002Q2104,2125 2092,2260"/>
<path fill="none" stroke="#7d4bb8" stroke-width="11" stroke-linecap="round" d="M2020,1109Q2044,1152 2031,1178M2232,1914Q2277,2036 2303,2159M2230,818Q2175,886 2163,952M2131,853Q2083,866 2002,897M2371,1334Q2370,1368 2370,1418M2109,1707Q2128,1764 2142,1845M2218,2488Q2263,2565 2303,2627M2375,1579Q2326,1620 2318,1670"/>
<path fill="none" stroke="#5f309c" stroke-width="7" stroke-linecap="round" d="M1992,2142Q2039,2162 2089,2214M2205,1125Q2228,1175 2258,1227M2104,819Q2181,854 2245,906M2373,2090Q2356,2212 2349,2340M2078,1158Q2102,1267 2109,1379M2327,2414Q2337,2523 2345,2631M2061,1263Q2081,1314 2104,1349"/>
<path fill="none" stroke="#7d4bb8" stroke-width="10" stroke-linecap="round" d="M2345,1293Q2359,1355 2390,1414M2409,1224Q2396,1281 2387,1328M2160,1670Q2143,1756 2142,1849M2353,2251Q2368,2299 2364,2362M2315,1807Q2323,1862 2332,1910M2041,2287Q2093,2371 2137,2457M2272,1799Q2239,1861 2203,1920M2176,1203Q2184,1274 2175,1311M2090,1818Q2105,1922 2133,2035"/>
<path fill="none" stroke="#7443b1" stroke-width="9" stroke-linecap="round" d="M2163,2303Q2161,2385 2157,2502M2387,2046Q2343,2136 2305,2219M2256,1702Q2249,1792 2241,1881M2348,1183Q2340,1236 2365,1289M2288,2487Q2296,2558 2308,2619M2038,1676Q2017,1792 1996,1892M2208,1201Q2231,1312 2246,1428M2413,830Q2403,903 2392,958M2148,826Q2188,878 2205,918M2292,1244Q2342,1366 2400,1465M2274,1897Q2242,1979 2203,2054"/>
<path fill="none" stroke="#7443b1" stroke-width="7" stroke-linecap="round" d="M2456,2322Q2433,2384 2393,2442M2249,1731Q2263,1770 2271,1819M2132,2387Q2126,2448 2123,2511M2086,1292Q2080,1317 2089,1352M2077,2036Q2056,2160 2033,2286M2100,1880Q2042,1988 2029,2103M2230,1426Q2231,1451 2249,1484M2108,2246Q2106,2308 2126,2380M2139,1281Q2119,1391 2122,1500M2071,1047Q2031,1131 2018,1236M2025,2491Q2058,2537 2120,2591M1992,820Q2015,929 2046,1016M2342,2501Q2298,2557 2226,2627M2207,2464Q2220,2501 2249,2541"/>
<path fill="none" stroke="#6a3aa7" stroke-width="7" stroke-linecap="round" d="M2332,1840Q2363,1920 2382,2007M2241,2384Q2228,2488 2223,2574M2291,954Q2323,1036 2364,1128M2108,2387Q2106,2475 2097,2564M2410,2047Q2451,2147 2453,2250M2380,1341Q2350,1364 2308,1398M2279,1817Q2318,1892 2360,1967M2016,1872Q2058,1937 2093,1977M2254,1808Q2238,1843 2216,1886M2409,1951Q2373,2052 2340,2147"/>
<path fill="none" stroke="#9362c9" stroke-width="6" stroke-linecap="round" d="M2000,1069Q2036,1164 2068,1258M2119,1617Q2114,1688 2130,1755M2178,934Q2170,1022 2157,1127M2383,1158Q2393,1186 2396,1227M2121,1822Q2146,1865 2162,1912M2403,2408Q2421,2482 2446,2558"/>
<path fill="none" stroke="#552789" stroke-width="11" stroke-linecap="round" d="M2076,2359Q2060,2454 2053,2548M2218,2348Q2205,2371 2178,2425M2170,1244Q2260,1337 2342,1424M2285,1231Q2285,1257 2307,1293M1982,942Q2029,1007 2069,1079M2052,2006Q2054,2068 2044,2144M2178,1242Q2190,1325 2173,1424M2102,819Q2085,921 2079,1045M2166,1096Q2196,1210 2191,1344M2030,2084Q2026,2122 2003,2165M2122,900Q2110,1000 2096,1119M2064,818Q2067,925 2085,1046"/>
<path fill="none" stroke="#7846b3" stroke-width="9" stroke-linecap="round" d="M2363,1812Q2355,1881 2354,1946M2433,935Q2442,1048 2436,1168M2030,1686Q2044,1750 2058,1809M2404,862Q2437,910 2437,980M2184,2259Q2195,2347 2228,2433M2119,2037Q2129,2096 2155,2175"/>
<path fill="none" stroke="#8d5bc5" stroke-width="7" stroke-linecap="round" d="M2399,1666Q2420,1732 2442,1777M2080,814Q2087,879 2075,945M2246,2205Q2255,2331 2261,2439M2436,2242Q2422,2300 2404,2344M2218,1089Q2196,1147 2172,1242M2066,2240Q2078,2318 2091,2373M2096,2528Q2094,2586 2096,2639M2232,1462Q2258,1507 2309,1554M2319,1128Q2343,1193 2354,1256M2342,2511Q2333,2568 2305,2627M2453,2279Q2445,2356 2434,2417M2036,1072Q2054,1155 2075,1244M2057,958Q2018,1057 2011,1154M2358,1790Q2384,1909 2382,2007"/>
<path fill="none" stroke="#7d4bb8" stroke-width="7" stroke-linecap="round" d="M2307,1048Q2283,1101 2259,1155M2197,1102Q2256,1183 2319,1253M2190,1923Q2180,1952 2213,1988M2445,2165Q2420,2204 2411,2245M2429,1587Q2399,1652 2386,1706M2113,2155Q2079,2265 2022,2359M2417,1844Q2390,1950 2341,2050M2121,1577Q2129,1649 2119,1710"/>
<path fill="none" stroke="#7443b1" stroke-width="10" stroke-linecap="round" d="M2263,1213Q2261,1254 2270,1288M2412,1809Q2423,1876 2437,1951M2140,2032Q2156,2157 2165,2279M2118,2065Q2092,2131 2064,2191M2099,1986Q2098,2055 2089,2135M2378,1252Q2358,1302 2351,1352M2135,2057Q2175,2129 2186,2203M2285,2251Q2288,2295 2287,2350M2072,1724Q2180,1768 2306,1797M2038,2430Q2068,2502 2072,2558M2124,2206Q2123,2262 2113,2310"/>
<path fill="none" stroke="#7846b3" stroke-width="7" stroke-linecap="round" d="M2318,1605Q2320,1718 2298,1820M2331,1533Q2370,1617 2396,1703M2270,2436Q2279,2530 2338,2606M2169,1104Q2223,1198 2253,1285M2116,1531Q2092,1599 2084,1665M2294,2280Q2360,2380 2404,2472M2142,2126Q2183,2155 2228,2175M2185,1042Q2183,1086 2184,1113M2374,1280Q2381,1320 2406,1343M2407,2370Q2351,2457 2321,2539M2082,1894Q2094,1988 2101,2062"/>
<path fill="none" stroke="#6a3aa7" stroke-width="10" stroke-linecap="round" d="M2332,1727Q2363,1846 2398,1962M2407,1558Q2384,1628 2395,1689M2341,1269Q2320,1302 2320,1341M2122,1295Q2140,1328 2147,1384M2246,2471Q2290,2550 2333,2630M2346,1739Q2339,1820 2328,1893M2403,2267Q2419,2320 2455,2367M2205,1434Q2148,1516 2122,1585M2226,929Q2217,970 2203,1006M2208,2035Q2213,2068 2201,2103"/>
<path fill="none" stroke="#552789" stroke-width="8" stroke-linecap="round" d="M2197,2136Q2182,2169 2155,2216M2307,1176Q2284,1245 2291,1326M2293,1471Q2273,1543 2250,1625M2124,1649Q2044,1695 1982,1752M2371,2436Q2378,2518 2383,2596M2050,1939Q2031,2004 2023,2057M2356,1742Q2343,1807 2333,1876M2246,1657Q2232,1758 2230,1853M2049,1229Q2071,1261 2064,1288M2124,1278Q2079,1288 2035,1314M2143,2214Q2144,2247 2135,2282M2115,1646Q2122,1675 2119,1725"/>
<path fill="none" stroke="#7d4bb8" stroke-width="8" stroke-linecap="round" d="M2125,1020Q2153,1066 2184,1108M2267,1873Q2285,1972 2300,2062M2440,1872Q2422,1963 2399,2071M2065,2307Q2042,2347 2035,2386M2098,1055Q2162,1093 2229,1112M2112,1457Q2143,1523 2169,1582M2356,1615Q2339,1740 2296,1854M2454,825Q2457,873 2416,897M2148,2126Q2132,2172 2150,2216M2181,2303Q2165,2394 2154,2483M2394,2471Q2399,2557 2372,2633M2158,2475Q2152,2522 2170,2579M2184,1283Q2184,1352 2185,1439M2271,1222Q2252,1316 2207,1388"/>
<path fill="none" stroke="#9362c9" stroke-width="8" stroke-linecap="round" d="M2432,2352Q2429,2424 2435,2517M2258,1145Q2258,1186 2251,1237M2400,2283Q2368,2384 2374,2467M1995,1734Q1979,1766 1990,1805M2011,1242Q2021,1288 2056,1323M2038,1514Q2058,1543 2060,1581M2372,2251Q2395,2329 2455,2416M2131,1229Q2137,1281 2152,1345M2166,1142Q2214,1179 2242,1231M2328,2261Q2328,2297 2328,2338M2446,2109Q2442,2151 2415,2191M2269,2558Q2326,2596 2374,2633M2150,1185Q2267,1243 2362,1295M2008,2053Q2066,2101 2128,2149M1993,811Q2033,894 2066,987M2448,1999Q2432,2085 2408,2155M2206,2422Q2191,2532 2149,2639M2078,2256Q2104,2341 2103,2458M2188,2165Q2161,2258 2143,2358M2120,1930Q2139,1989 2176,2049M2061,2386Q2076,2469 2099,2535"/>
<path fill="none" stroke="#8553bf" stroke-width="6" stroke-linecap="round" d="M2363,1299Q2364,1383 2382,1469M2025,1986Q2008,2038 2003,2069M2100,2030Q2085,2085 2099,2132M2424,1143Q2434,1220 2418,1291M2300,1597Q2319,1681 2336,1759M2277,1307Q2262,1389 2269,1467M2388,851Q2370,924 2365,990"/>
<path fill="none" stroke="#6736a3" stroke-width="9" stroke-linecap="round" d="M2394,1186Q2390,1227 2398,1273M2143,2490Q2125,2555 2122,2640M2123,1499Q2113,1591 2097,1680M2321,2541Q2347,2586 2363,2632M2201,1965Q2159,2085 2128,2210M2024,1775Q2057,1874 2091,1972M2119,1155Q2152,1240 2161,1343"/>
<path fill="none" stroke="#8553bf" stroke-width="9" stroke-linecap="round" d="M2151,1767Q2143,1858 2116,1961M2446,1115Q2360,1191 2262,1281M2135,1631Q2142,1724 2159,1817M2122,1480Q2069,1579 2042,1702M2365,2383Q2353,2460 2313,2516M2129,2121Q2148,2149 2155,2183"/>
<path fill="none" stroke="#7443b1" stroke-width="8" stroke-linecap="round" d="M2215,872Q2238,954 2241,1030M2323,2349Q2333,2425 2348,2498M2203,2017Q2208,2070 2187,2125M2112,820Q2100,898 2108,984M2300,1203Q2282,1233 2285,1261M2454,1305Q2405,1403 2343,1504M2394,2309Q2411,2420 2432,2537M2431,2369Q2435,2447 2449,2530M2165,1758Q2182,1845 2182,1954M2178,1270Q2116,1377 2054,1477M2217,2113Q2212,2176 2218,2223M2259,816Q2248,940 2256,1058M2417,1566Q2425,1600 2450,1632"/>
<path fill="none" stroke="#5f309c" stroke-width="6" stroke-linecap="round" d="M2315,1171Q2310,1203 2335,1229M2112,1239Q2132,1274 2133,1315M2356,1507Q2341,1535 2353,1569M2204,1072Q2228,1173 2255,1278M2338,1625Q2358,1703 2383,1801"/>
<path fill="none" stroke="#552789" stroke-width="6" stroke-linecap="round" d="M2425,1498Q2343,1575 2296,1663M2261,2480Q2270,2538 2256,2594M2308,1997Q2319,2031 2318,2073M2425,2179Q2426,2229 2454,2272M2221,818Q2220,907 2233,975M2207,1250Q2191,1318 2164,1377M2230,1141Q2252,1197 2256,1253M2023,1701Q2036,1821 2059,1932M2103,2320Q2147,2418 2173,2508"/>
<path fill="none" stroke="#7846b3" stroke-width="6" stroke-linecap="round" d="M2141,2019Q2131,2067 2114,2117M2333,2478Q2276,2555 2222,2627M2359,977Q2346,1088 2348,1185M2362,2148Q2326,2258 2296,2362M2301,1756Q2271,1809 2262,1878M2336,1676Q2340,1739 2350,1787M2321,1086Q2309,1125 2311,1162M1990,2062Q2060,2133 2130,2205M2105,1274Q2084,1358 2068,1449M2188,2023Q2215,2115 2236,2204M2035,830Q2011,929 2011,1043"/>
<path fill="none" stroke="#552789" stroke-width="7" stroke-linecap="round" d="M2321,1176Q2320,1215 2343,1262M2280,1474Q2289,1520 2306,1553M2354,2509Q2352,2544 2347,2588M2121,2072Q2112,2183 2074,2305M2071,1034Q2072,1111 2076,1174M1996,1978Q2021,2080 2061,2177M2134,2045Q2110,2127 2068,2194M2340,826Q2344,867 2384,895M2365,1809Q2377,1870 2375,1936M2104,2176Q2101,2252 2078,2343M2003,911Q2024,961 2037,1005M2262,2338Q2270,2401 2283,2456"/>
<path fill="none" stroke="#8d5bc5" stroke-width="9" stroke-linecap="round" d="M2387,2563Q2383,2594 2371,2624M2455,1184Q2429,1272 2415,1339M2007,1950Q2014,1985 2018,2015M2266,2280Q2261,2376 2256,2485M2425,2020Q2433,2067 2447,2134M2148,955Q2136,983 2150,1035M2451,1082Q2454,1175 2437,1274"/>
<path fill="none" stroke="#7846b3" stroke-width="8" stroke-linecap="round" d="M2207,820Q2205,857 2218,907M2030,1625Q2032,1649 2037,1686M2190,1977Q2206,2005 2224,2030M2456,1764Q2449,1804 2444,1834M2054,820Q2116,848 2161,875M2337,1842Q2296,1890 2272,1937M2200,1152Q2202,1196 2221,1241M2265,1987Q2247,2050 2229,2122M2376,2122Q2364,2227 2344,2330M2087,2079Q2081,2174 2077,2269M2290,2024Q2258,2070 2209,2127M2405,2034Q2387,2076 2370,2124M2166,1678Q2143,1714 2151,1754M2238,1505Q2200,1539 2197,1578M2226,1868Q2222,1903 2224,1937M2119,2315Q2110,2408 2099,2510M2286,1697Q2309,1836 2318,1951M2059,845Q2058,923 2047,989"/>
<path fill="none" stroke="#6a3aa7" stroke-width="9" stroke-linecap="round" d="M2043,1307Q2014,1396 2023,1485M2059,1499Q2068,1567 2084,1625M2154,1410Q2196,1452 2227,1493M2420,2169Q2438,2257 2430,2335M2000,2066Q1990,2114 1998,2179M2172,1752Q2164,1873 2166,1989M2131,1300Q2163,1374 2163,1454"/>
<path fill="none" stroke="#5f309c" stroke-width="11" stroke-linecap="round" d="M2395,1783Q2398,1852 2393,1930M2343,2365Q2355,2468 2352,2558M2112,1499Q2103,1566 2073,1632M2137,1638Q2089,1748 2043,1847M2344,1961Q2360,2019 2369,2082M2370,831Q2344,913 2330,998"/>
<path fill="none" stroke="#40206f" stroke-width="8" stroke-linecap="round" d="M2194,2029l4,16M2258,1709l-2,21M2392,1540l1,18M2368,1166l-6,28M2115,889l11,27M2214,2192l5,31M2054,1407l9,17M2321,2031l-7,14M2200,2248l7,37M2415,1685l6,18M2098,2250l12,18M2103,2150l-4,15M2304,899l10,25M2254,1091l2,22M2124,2343l-21,30M2320,1241l-1,19M2106,2499l8,26M2187,1621l2,14M2283,2166l-3,22M2071,1073l8,13M2023,2049l13,31M2160,1006l13,39M2230,2402l-9,25M2326,1772l-13,20M2267,2570l-9,20M2126,2600l-1,38M2234,1130l10,28M2191,1277l-6,19M2282,1644l8,40M2146,2473l2,34M2365,2294l-3,31M2197,1652l1,34M2200,1400l15,34M2206,1253l-7,26M2222,2451l1,20M2115,1108l14,19M2137,1573l1,19M2404,2304l-7,14M2251,2290l-16,38M2377,1026l7,13M2079,1651l6,15M2210,1076l4,26M2034,2122l-13,36M2107,1805l-19,35M2224,2256l-5,36M2058,2293l2,15M2158,1441l2,35M2185,2264l-5,31M2363,1114l5,16M2285,2179l-13,38M2385,2190l6,22M2154,1745l1,20M2402,1818l-12,21M2250,1025l-12,32M2200,2246l-12,17M2103,1093l-1,28M2379,2221l2,20M2387,1917l4,16M2335,1978l8,36M2266,1007l6,15M2119,2166l1,15M2335,2406l1,16M2153,1704l-6,25M2400,1732l14,35M2354,1507l-1,35M2406,1594l19,26M2293,1073l17,30M2194,2025l2,26M2368,2375l-1,34M2212,2522l-0,27M2094,1003l6,30M2400,2355l-13,37M2143,2118l9,32M2023,2104l-6,15M2058,1973l-1,16M2064,2529l-4,21M2316,1562l3,20M2417,1878l4,40M2059,844l-2,25M2109,1431l-2,40M2347,1723l-4,39M2285,877l27,21M2386,1916l8,27M2192,2561l10,18M2400,1871l5,33M2163,2433l8,22M2112,1995l3,25M2379,2298l1,25M2343,1042l27,24M2092,1274l9,16M2156,2383l-8,18M2138,1412l-8,25M2108,2347l3,29M2125,1422l-3,19M2415,2139l3,29M2279,993l7,37M2170,917l3,15M2250,1553l-5,34M2035,1665l-8,27M2074,1604l-8,24M2382,1067l0,33M2289,1399l-6,23M2280,2153l-5,25M2242,2616l9,13M2063,1937l6,28M2247,1212l-2,18M2094,1024l1,19M2175,1833l-9,18M2259,1126l9,37M2415,1761l2,22M2350,2029l-10,27M2247,2306l1,20M2232,1683l-10,36M2036,1881l1,17M2438,2281l8,41M2373,1238l-3,16M2412,1236l-4,20M2158,2263l1,19M2278,1584l-3,22M2272,1079l-12,24M2096,2048l5,38M2404,1434l-12,39M2255,2413l2,34M2107,1571l-2,26M2360,1994l13,23M2118,1617l-11,32M2318,1267l4,26M2198,2005l3,39M2375,919l8,26M2201,1533l3,36M2148,1825l-6,20M2208,1087l8,14M2195,2003l-5,27M2025,1018l14,35M2201,2569l4,22M2368,1783l12,39M2398,954l7,14M2396,1489l19,25M2324,1763l7,37M2135,2147l-8,37M2187,1392l-14,35M2328,2425l-4,33M2300,2176l-5,27M2428,1669l-4,23M2371,1389l14,33M2268,1054l-2,16M2358,2152l-11,23M2190,1270l2,36M2128,2265l-2,27M2012,1002l5,24M2212,2337l2,20M2409,2570l-0,16M2276,1426l-14,35M2252,2221l-4,25M2274,1069l2,16M2042,2143l-8,36M2126,1532l-9,33M2199,2277l12,19M2141,1312l-7,39M2357,1201l-2,24M2281,1224l2,32M2339,2242l24,26M2090,1675l-7,25M2339,2084l-1,35M2233,2483l4,25M2058,2162l-16,24M2169,1622l22,33M2165,1245l-2,19M2278,1498l10,33M2081,2054l-1,21M2077,2110l-2,14M2210,2591l-4,34M2325,2146l16,19M2423,994l-10,30M2332,2542l-4,30M2427,1306l-6,36M2047,994l-1,41M2237,990l-4,40M2404,1587l-4,39M2277,2094l-4,30M2069,941l-2,39M2358,2366l4,20M2046,1436l-15,38M2383,1609l-16,24M2148,840l10,30M2120,2087l-2,18M2207,1591l4,26M2051,998l-7,20M2054,1888l4,20M2382,1841l6,22M2148,887l4,17M2018,1867l11,34M2310,1949l-19,25M2141,1167l-14,23M2305,1182l2,18M2236,1599l-6,28M2122,2379l21,36M2328,1454l5,36M2141,1446l-4,29M2339,2429l-1,14M2109,1860l4,18M2184,1918l8,29M2101,2561l2,23M2140,2435l7,32M2142,1716l-2,37M2435,2363l-8,19M2185,2340l-0,27M2357,1289l3,22M2108,1225l-2,32M2350,1389l-11,26"/>
<path fill="none" stroke="#9362c9" stroke-width="11" stroke-linecap="round" d="M2379,1387Q2394,1447 2420,1496M2366,2364Q2337,2402 2331,2440M2166,1972Q2174,2047 2150,2124M2046,817Q2078,941 2086,1066M2127,2553Q2149,2594 2170,2636M2035,977Q2038,1028 2017,1074M2097,2370Q2115,2395 2124,2432M1996,1961Q2006,2019 2044,2093M2200,2473Q2223,2551 2252,2625M2345,1489Q2276,1568 2202,1642M2419,2052Q2391,2167 2374,2298"/>
<path fill="none" stroke="#6a3aa7" stroke-width="9" stroke-linecap="round" d="M2414,1690Q2440,1765 2433,1843M2310,971Q2321,1029 2303,1090M2343,2571Q2349,2597 2337,2631M2409,1708Q2380,1803 2354,1907"/>
<path fill="none" stroke="#6736a3" stroke-width="7" stroke-linecap="round" d="M2011,809Q2005,866 1987,905M2245,1359Q2246,1382 2233,1419M2258,2577Q2284,2599 2303,2627M2060,1307Q2061,1362 2070,1433M2283,2134Q2309,2186 2324,2220"/>
<path fill="none" stroke="#7846b3" stroke-width="8" stroke-linecap="round" d="M2356,2123Q2382,2194 2385,2272M2046,1759Q2038,1829 2018,1892M2309,1976Q2316,2064 2320,2149M2307,1304Q2311,1371 2322,1427M2297,1151Q2338,1246 2383,1346M2296,1918Q2291,2042 2300,2166M2245,2549Q2224,2595 2205,2630M2264,988Q2292,1047 2289,1125M2420,2063Q2416,2095 2411,2142M2140,1337Q2149,1399 2158,1463"/>
<path fill="none" stroke="#552789" stroke-width="8" stroke-linecap="round" d="M2185,1320Q2208,1431 2236,1536M2109,2211Q2067,2257 2035,2306M2174,1455Q2195,1564 2169,1667M2337,1228Q2327,1285 2326,1344M2330,1499Q2314,1534 2293,1573M2107,1534Q2100,1662 2062,1786M2309,1793Q2324,1830 2309,1882M2184,2556Q2212,2589 2229,2626M2325,2034Q2312,2092 2271,2139M2249,1504Q2250,1534 2245,1580M2331,2224Q2348,2269 2377,2328M2445,2577Q2443,2602 2432,2627M2416,1713Q2401,1774 2394,1851M2193,1667Q2177,1697 2193,1736M2209,1765Q2241,1894 2245,2022M2393,2468Q2375,2529 2340,2565M2039,1078Q2080,1176 2117,1272M2048,2351Q2043,2422 2053,2483"/>
<path fill="none" stroke="#6a3aa7" stroke-width="8" stroke-linecap="round" d="M2060,2211Q2069,2317 2062,2414M2176,863Q2130,954 2079,1035M2096,1021Q2126,1060 2122,1101M2109,2049Q2138,2132 2172,2228M2248,2321Q2238,2377 2230,2433M2431,1725Q2444,1804 2453,1888M2225,838Q2262,948 2320,1053M2068,812Q2026,858 1999,926M2321,1505Q2310,1598 2296,1683M2431,1102Q2417,1167 2409,1222M2114,1703Q2077,1763 2061,1821M2011,1538Q2032,1595 2045,1649M2230,1710Q2278,1804 2328,1905M2303,2522Q2312,2576 2352,2632M2290,894Q2257,982 2206,1064M2083,2499Q2140,2572 2198,2631M2197,1816Q2205,1844 2209,1878M2265,2297Q2250,2327 2242,2358M2196,1103Q2190,1154 2162,1200M2109,1652Q2099,1697 2091,1746M2024,1684Q2032,1739 2025,1791"/>
<path fill="none" stroke="#7443b1" stroke-width="8" stroke-linecap="round" d="M2443,1221Q2404,1294 2358,1372M2128,1215Q2148,1290 2165,1366M2102,1138Q2093,1183 2084,1227M2164,2326Q2122,2397 2062,2468M2043,2327Q2041,2420 2036,2510M2038,1563Q2022,1654 1997,1736M2005,1422Q2046,1514 2067,1603M2030,2065Q2025,2162 2019,2255M2100,990Q2114,1023 2113,1066M2393,1888Q2355,1999 2302,2117M2246,1014Q2268,1100 2299,1184M2222,945Q2186,1052 2176,1148M1990,1864Q2015,1972 2044,2077M2380,2029Q2330,2126 2285,2233M2282,1089Q2291,1177 2302,1272M2315,959Q2380,991 2434,1022"/>
<path fill="none" stroke="#8553bf" stroke-width="10" stroke-linecap="round" d="M2373,1018Q2400,1144 2404,1273M2007,1943Q2025,1977 2020,2006M2129,1490Q2064,1603 2007,1706M2165,2087Q2163,2121 2141,2160M2154,1771Q2110,1895 2083,2014M2198,1423Q2203,1470 2211,1514"/>
<path fill="none" stroke="#7443b1" stroke-width="10" stroke-linecap="round" d="M2400,2160Q2367,2253 2331,2360M2454,1700Q2406,1783 2377,1857M2048,1873Q2067,1949 2090,2013M2330,825Q2331,946 2340,1069M2238,1965Q2236,1998 2241,2040M2219,2247Q2214,2286 2215,2338M2341,910Q2335,988 2308,1082M2051,1101Q2084,1223 2083,1356M2415,2198Q2363,2293 2309,2384M2300,1579Q2344,1676 2370,1758M2362,2061Q2376,2108 2379,2176M2096,940Q2080,1039 2099,1130M2259,1872Q2239,1964 2229,2056M2095,1471Q2119,1563 2145,1655"/>
<path fill="none" stroke="#7846b3" stroke-width="11" stroke-linecap="round" d="M2394,1254Q2408,1373 2427,1494M2424,1759Q2432,1833 2453,1906M2086,1076Q2093,1113 2093,1174M2093,1984Q2171,2082 2218,2187M2185,988Q2170,1109 2177,1216M2341,1384Q2327,1449 2306,1515M2152,2353Q2180,2426 2183,2491M1986,1829Q2030,1930 2055,2030M2110,1736Q2111,1802 2129,1862M2121,2428Q2130,2538 2140,2625M2208,1797Q2193,1842 2185,1914"/>
<path fill="none" stroke="#5f309c" stroke-width="10" stroke-linecap="round" d="M2350,2525Q2319,2576 2297,2626M2379,2167Q2425,2278 2456,2379M2232,2184Q2216,2286 2204,2395M2455,1747Q2421,1800 2423,1864M2270,1704Q2283,1774 2317,1854M2304,1200Q2286,1233 2299,1287M2038,811Q2053,868 2083,916M2213,2537Q2171,2575 2177,2635"/>
<path fill="none" stroke="#6736a3" stroke-width="9" stroke-linecap="round" d="M2006,1295Q2011,1400 2039,1510M2089,2205Q2080,2290 2064,2364M2373,1039Q2320,1134 2282,1236M2315,822Q2324,854 2331,889M2378,1439Q2408,1554 2441,1682M2152,824Q2091,870 2043,931M2227,1719Q2231,1757 2255,1798M2081,1698Q2118,1803 2159,1901M2094,1842Q2083,1887 2050,1926M2201,1243Q2206,1302 2232,1350"/>
<path fill="none" stroke="#7d4bb8" stroke-width="9" stroke-linecap="round" d="M2303,1929Q2312,1996 2320,2068M2392,1317Q2408,1359 2409,1382M2323,1282Q2340,1402 2353,1493M2306,1282Q2319,1327 2300,1361M2095,1098Q2097,1169 2095,1242M2333,1986Q2360,2026 2379,2074M2400,876Q2410,949 2409,1015M2047,1265Q2106,1308 2169,1365M2370,2305Q2397,2382 2401,2437M2227,2316Q2238,2367 2243,2450M2153,2483Q2177,2514 2193,2542"/>
<path fill="none" stroke="#8d5bc5" stroke-width="11" stroke-linecap="round" d="M2023,851Q2035,901 2041,963M2370,2208Q2376,2258 2342,2312M2167,1033Q2138,1065 2113,1088M2271,2245Q2291,2308 2300,2360M2079,1948Q2071,2018 2075,2065M2358,2422Q2389,2480 2427,2502M2194,2439Q2204,2494 2193,2545"/>
<path fill="none" stroke="#7846b3" stroke-width="10" stroke-linecap="round" d="M2059,2072Q2118,2149 2152,2232M2057,1775Q2030,1812 2015,1840M2167,1033Q2184,1071 2199,1113M2204,1908Q2198,1984 2218,2073M2156,1660Q2157,1717 2174,1760M2428,829Q2385,860 2344,894M2034,1942Q2041,1999 2038,2049M2134,1409Q2130,1455 2140,1509M2095,1755Q2119,1797 2157,1840M2133,1904Q2110,1948 2089,2005"/>
<path fill="none" stroke="#552789" stroke-width="11" stroke-linecap="round" d="M2059,1265Q2042,1327 2044,1394M2150,1281Q2208,1376 2255,1446M2264,2247Q2326,2353 2395,2458M2355,2393Q2377,2460 2398,2513M2411,1079Q2424,1115 2439,1164M2091,1732Q2113,1779 2137,1822M2357,2093Q2332,2121 2300,2153M2270,1533Q2295,1576 2299,1630M2347,1633Q2302,1756 2265,1855M2120,2117Q2101,2216 2053,2328"/>
<path fill="none" stroke="#9362c9" stroke-width="7" stroke-linecap="round" d="M2280,2135Q2363,2231 2432,2315M2374,1831Q2414,1934 2446,2038M2053,2362Q2056,2466 2044,2578M2074,1196Q2086,1250 2095,1312M2083,1915Q2087,1945 2097,1976M2097,1785Q2127,1853 2163,1906M2346,1585Q2346,1621 2367,1658M2086,2216Q2118,2288 2183,2374M2116,1548Q2117,1639 2114,1733M2177,1798Q2195,1923 2199,2052"/>
<path fill="none" stroke="#8d5bc5" stroke-width="7" stroke-linecap="round" d="M2456,1227Q2397,1331 2325,1427M2357,1988Q2349,2044 2343,2096M2251,1590Q2211,1666 2185,1739M2237,1413Q2231,1474 2245,1533M2278,820Q2256,882 2244,938M2059,1096Q2035,1155 2019,1229M2051,1438Q2067,1513 2093,1584M2161,1721Q2165,1777 2133,1816M1997,1637Q2037,1746 2053,1857"/>
<path fill="none" stroke="#6a3aa7" stroke-width="6" stroke-linecap="round" d="M1996,1930Q2026,1987 2043,2025M2250,1698Q2213,1790 2188,1901M2382,1708Q2371,1749 2362,1799M2255,959Q2285,987 2291,1016M2050,1303Q2024,1364 2005,1421M2132,882Q2128,914 2125,950M2294,1545Q2275,1613 2258,1695M2356,2552Q2334,2596 2318,2628M2456,1791Q2453,1851 2424,1894M2413,2544Q2425,2587 2418,2628"/>
<path fill="none" stroke="#8d5bc5" stroke-width="9" stroke-linecap="round" d="M2129,1570Q2182,1635 2228,1701M2287,2057Q2287,2125 2316,2181M2311,985Q2289,1074 2275,1172M2338,1781Q2341,1820 2367,1865M2049,1120Q2095,1224 2117,1323M2303,2050Q2300,2152 2327,2258M2103,2184Q2120,2312 2128,2440M2412,1459Q2390,1499 2391,1535M2002,1610Q2042,1686 2070,1766M2234,1579Q2227,1627 2222,1670"/>
<path fill="none" stroke="#5f309c" stroke-width="7" stroke-linecap="round" d="M2393,859Q2403,938 2409,1027M2036,1516Q2070,1570 2066,1634M2194,2374Q2190,2407 2192,2468M2168,1852Q2209,1938 2232,2042M2221,819Q2204,887 2199,946M2419,1140Q2416,1189 2426,1237M2121,1088Q2078,1135 2067,1177M2240,928Q2158,961 2056,984M2306,2467Q2249,2519 2221,2566M2280,1412Q2275,1481 2266,1529"/>
<path fill="none" stroke="#6a3aa7" stroke-width="11" stroke-linecap="round" d="M2359,1377Q2337,1460 2276,1567M2322,866Q2310,909 2305,932M2435,2459Q2399,2536 2372,2614M2299,1860Q2317,1934 2314,2015M2320,1342Q2260,1401 2217,1462M2338,826Q2355,853 2343,876M2298,2011Q2256,2076 2201,2135M2283,1727Q2256,1767 2241,1796M2347,2224Q2381,2282 2406,2346"/>
<path fill="none" stroke="#7d4bb8" stroke-width="6" stroke-linecap="round" d="M2180,1639Q2201,1706 2237,1764M2360,2012Q2382,2079 2377,2120M2164,947Q2130,1059 2103,1165M2349,2194Q2337,2223 2314,2261M2305,1755Q2240,1833 2168,1932M2449,2532Q2419,2588 2379,2633M2297,1670Q2314,1742 2296,1808"/>
<path fill="none" stroke="#6736a3" stroke-width="11" stroke-linecap="round" d="M2289,2149Q2279,2223 2282,2291M2156,1372Q2177,1425 2170,1473M2010,1688Q2017,1734 2023,1782M2315,2470Q2283,2502 2249,2534M2276,1332Q2182,1405 2069,1489M2393,2437Q2404,2465 2400,2497M2304,2276Q2326,2353 2351,2449M2375,1361Q2400,1395 2420,1427M1983,913Q2001,1008 2023,1117M2304,820Q2308,868 2316,931M2028,1689Q2065,1769 2095,1855"/>
<path fill="none" stroke="#6736a3" stroke-width="6" stroke-linecap="round" d="M2140,2494Q2143,2554 2144,2639M2372,1158Q2372,1232 2384,1319M2227,2271Q2196,2330 2130,2381M2349,2211Q2360,2287 2372,2379M2058,879Q2066,920 2062,967M2360,1311Q2324,1386 2305,1473M2198,2524Q2217,2566 2223,2627M2183,823Q2139,872 2093,916M2191,1684Q2221,1799 2237,1907M2009,1475Q2040,1546 2097,1594M2209,1722Q2205,1774 2227,1827M2337,1027Q2313,1136 2325,1251"/>
<path fill="none" stroke="#8d5bc5" stroke-width="6" stroke-linecap="round" d="M2045,1649Q2015,1712 1991,1775M2448,1992Q2415,2087 2387,2186M2080,2210Q2064,2285 2039,2366M2027,1325Q2019,1364 2009,1411"/>
<path fill="none" stroke="#7d4bb8" stroke-width="8" stroke-linecap="round" d="M2450,1066Q2436,1173 2433,1271M2429,829Q2429,874 2419,916M2102,2366Q2133,2453 2182,2535M2252,1445Q2235,1544 2227,1636M2245,1064Q2231,1153 2229,1241M2326,1268Q2317,1335 2291,1397M2219,2432Q2216,2489 2233,2528M2176,1969Q2170,2039 2167,2119M2138,1870Q2167,1932 2189,2001M2130,2184Q2161,2252 2170,2326M2394,2452Q2400,2517 2400,2561M2160,2511Q2159,2571 2155,2617M2284,2020Q2267,2081 2252,2139M2156,825Q2192,874 2236,928M2133,2053Q2080,2178 2026,2287M2158,1828Q2089,1932 2000,2035M1984,911Q2019,1031 2034,1147M2188,1891Q2172,1960 2164,2051M2341,1548Q2343,1592 2367,1648"/>
<path fill="none" stroke="#9362c9" stroke-width="6" stroke-linecap="round" d="M2215,2201Q2248,2299 2263,2379M2441,1721Q2422,1758 2418,1825M2283,1478Q2310,1600 2305,1733M2377,2037Q2357,2130 2335,2228M2359,1086Q2359,1116 2347,1147M2047,1705Q2091,1789 2122,1862M2260,1083Q2256,1159 2256,1224M2335,1187Q2361,1257 2404,1346M2009,1369Q2062,1408 2092,1458M2191,1206Q2182,1296 2180,1393"/>
<path fill="none" stroke="#8d5bc5" stroke-width="8" stroke-linecap="round" d="M2066,2355Q2089,2479 2129,2603M2216,1922Q2195,1949 2188,1990M2174,1961Q2196,2045 2227,2133M2402,1408Q2421,1487 2448,1582M1993,1882Q1994,1978 2018,2063M2309,821Q2301,879 2283,942M2313,936Q2321,1000 2351,1083M2093,1495Q2053,1538 2037,1598M2063,1525Q2044,1643 2045,1753M2113,2226Q2102,2347 2088,2465M2130,2494Q2129,2537 2143,2587M1996,1965Q2039,2055 2066,2136M2306,2229Q2308,2265 2290,2309M2025,1197Q2031,1243 2034,1305M2256,1894Q2236,1977 2212,2064M2096,2376Q2075,2431 2070,2492M2325,1595Q2291,1662 2266,1733"/>
<path fill="none" stroke="#7d4bb8" stroke-width="10" stroke-linecap="round" d="M2265,1159Q2261,1262 2248,1370M2445,1090Q2434,1154 2447,1219M2126,822Q2046,848 2014,871M2012,1287Q2049,1390 2110,1509M2276,2196Q2212,2312 2155,2425"/>
<path fill="none" stroke="#6736a3" stroke-width="8" stroke-linecap="round" d="M2018,1463Q2042,1555 2075,1644M2348,2474Q2400,2554 2436,2627M2332,2079Q2303,2184 2267,2279M2401,1619Q2416,1672 2407,1720M2336,2368Q2326,2473 2284,2583M2042,1701Q2052,1735 2070,1768M2286,1872Q2197,1886 2126,1917M2445,1287Q2437,1355 2433,1432M2221,853Q2201,927 2186,1003M2136,2216Q2200,2330 2232,2436M2145,2106Q2162,2220 2184,2359M2036,2320Q2041,2402 2056,2496M2259,1232Q2237,1279 2215,1314M2292,839Q2245,941 2238,1037M2380,1858Q2409,1907 2408,1962M2326,2011Q2343,2095 2323,2184"/>
<path fill="none" stroke="#7846b3" stroke-width="9" stroke-linecap="round" d="M2252,2543Q2214,2586 2187,2633M2089,2484Q2074,2532 2043,2569M2255,948Q2261,1042 2282,1140M2451,1648Q2448,1716 2443,1784M2057,1682Q2076,1762 2091,1858M2059,890Q2097,973 2124,1042M2169,1027Q2198,1096 2211,1152M2369,1014Q2366,1105 2363,1194M2353,2556Q2341,2596 2339,2631M2207,982Q2212,1005 2242,1033M2353,2047Q2300,2090 2270,2161"/>
<path fill="none" stroke="#9362c9" stroke-width="9" stroke-linecap="round" d="M2194,1605Q2226,1677 2243,1718M2089,2552Q2093,2594 2097,2640M2128,2407Q2120,2441 2127,2475M2050,1314Q2083,1386 2114,1452M2200,2222Q2148,2273 2129,2317M2204,2229Q2180,2315 2197,2416M2354,2001Q2398,2061 2447,2127"/>
<path fill="none" stroke="#5f309c" stroke-width="11" stroke-linecap="round" d="M2455,2411Q2375,2494 2328,2598M2137,2506Q2160,2565 2169,2636M2341,1979Q2343,2054 2350,2131"/>
<path fill="none" stroke="#552789" stroke-width="6" stroke-linecap="round" d="M2417,1144Q2395,1255 2352,1369M2137,2192Q2119,2272 2100,2358M2137,2420Q2144,2473 2151,2518M2303,2417Q2307,2514 2329,2630M2092,1974Q2094,2060 2101,2118"/>
<path fill="none" stroke="#9362c9" stroke-width="8" stroke-linecap="round" d="M2381,1607Q2401,1662 2414,1716M2050,810Q2079,844 2098,905M2447,1557Q2404,1588 2360,1651M2050,1206Q2032,1246 2019,1299M2404,2019Q2430,2069 2447,2118M2057,881Q2050,985 2059,1067M2091,2513Q2085,2556 2080,2593M2149,1314Q2168,1361 2201,1410M2387,969Q2407,1028 2411,1094M2320,1186Q2327,1235 2335,1276M2233,2547Q2186,2589 2151,2638M2355,1866Q2284,1934 2210,2003M2204,1212Q2185,1295 2163,1367M2126,2537Q2113,2565 2138,2617"/>
<path fill="none" stroke="#6a3aa7" stroke-width="10" stroke-linecap="round" d="M2004,1315Q2020,1361 2056,1411M2236,1840Q2206,1948 2192,2071M2018,2109Q2049,2166 2089,2232M2218,819Q2154,904 2108,984M2106,819Q2119,884 2138,963M2231,855Q2227,986 2238,1111M2091,1246Q2049,1374 2031,1492M2204,1514Q2184,1558 2157,1599M2121,1781Q2212,1828 2286,1877"/>
<path fill="none" stroke="#7443b1" stroke-width="6" stroke-linecap="round" d="M2300,1304Q2290,1366 2306,1440M2132,1448Q2116,1515 2094,1575M2063,1831Q2119,1925 2157,2020M2041,2130Q2071,2164 2099,2191M2193,2067Q2194,2110 2206,2154M2443,2308Q2385,2397 2311,2511M2336,1244Q2294,1321 2230,1415M2298,927Q2308,1019 2269,1114M2425,2260Q2406,2349 2397,2435M2287,2123Q2308,2232 2346,2330M2192,2475Q2218,2529 2228,2590"/>
<path fill="none" stroke="#552789" stroke-width="9" stroke-linecap="round" d="M2039,1812Q2065,1926 2106,2043M2148,1476Q2142,1499 2161,1541M2044,951Q2032,1041 2040,1126M2057,2173Q2076,2198 2094,2223M2194,1933Q2207,1994 2230,2066M2164,1839Q2118,1914 2068,2001M2135,2268Q2138,2286 2115,2327M2142,1341Q2151,1421 2168,1496M2046,810Q2065,861 2046,909M2103,1923Q2042,1959 1995,1995M2178,1777Q2242,1844 2277,1913M2170,2277Q2131,2328 2101,2398"/>
<path fill="none" stroke="#8d5bc5" stroke-width="10" stroke-linecap="round" d="M2218,992Q2217,1011 2200,1058M2093,1833Q2136,1936 2166,2055M2113,2521Q2093,2555 2085,2593M2301,2472Q2316,2548 2310,2628M2011,1540Q2090,1572 2178,1603M2180,2290Q2190,2402 2226,2509M2063,2331Q2076,2385 2088,2442M2094,1663Q2085,1760 2069,1837M2285,2021Q2321,2116 2375,2202M2023,2466Q2064,2558 2100,2640"/>
<path fill="none" stroke="#9362c9" stroke-width="10" stroke-linecap="round" d="M2146,981Q2160,1081 2172,1174M2357,1282Q2273,1364 2218,1461M2099,818Q2105,853 2127,886M2418,2421Q2397,2497 2362,2586M2273,2548Q2305,2588 2358,2632M2182,2363Q2202,2477 2247,2584M2394,1176Q2404,1293 2414,1416M2118,1029Q2144,1125 2156,1227M2270,1040Q2263,1070 2255,1115"/>
<path fill="none" stroke="#6736a3" stroke-width="10" stroke-linecap="round" d="M2275,1621Q2248,1727 2229,1844M2069,1489Q2050,1550 2037,1626M2008,1273Q2042,1356 2049,1437M2351,1364Q2364,1405 2386,1444M2293,2498Q2296,2539 2300,2576M2167,1803Q2176,1846 2175,1897"/>
<path fill="none" stroke="#8553bf" stroke-width="7" stroke-linecap="round" d="M2000,1622Q2046,1697 2069,1774M2289,1325Q2233,1406 2179,1505M2221,2333Q2317,2427 2392,2527M2169,2415Q2139,2503 2138,2604M2107,1827Q2089,1919 2093,2010M2122,822Q2126,849 2131,897M2378,2078Q2411,2192 2437,2316M2207,2070Q2232,2170 2239,2291"/>
<path fill="none" stroke="#552789" stroke-width="7" stroke-linecap="round" d="M2194,2297Q2200,2328 2163,2386M2200,2126Q2193,2192 2200,2258M2035,1663Q2030,1711 2028,1765M2218,1716Q2264,1826 2296,1930M2041,2165Q2051,2256 2045,2342"/>
<path fill="none" stroke="#5f309c" stroke-width="9" stroke-linecap="round" d="M2208,2032Q2189,2106 2185,2177M2298,2203Q2288,2236 2284,2278M2288,1606Q2279,1666 2291,1722M2123,918Q2055,970 1989,1023M2167,1851Q2121,1970 2081,2096M2130,1113Q2130,1166 2113,1219M2428,1706Q2361,1802 2298,1913M2299,2595Q2366,2610 2446,2625M2041,2422Q2044,2475 2055,2524"/>
<path fill="none" stroke="#5f309c" stroke-width="6" stroke-linecap="round" d="M2249,1942Q2285,2023 2325,2050M2128,1102Q2109,1174 2081,1266M2185,2393Q2169,2511 2193,2631M2142,1933Q2108,2054 2084,2170M2376,1562Q2395,1634 2409,1703M2083,2462Q2077,2503 2071,2552M2273,1646Q2350,1726 2430,1800M2143,827Q2134,929 2152,1044"/>
<path fill="none" stroke="#7846b3" stroke-width="7" stroke-linecap="round" d="M2156,1795Q2086,1863 2067,1942M2323,2268Q2361,2380 2418,2501M2406,1455Q2428,1519 2447,1574M2218,2580Q2226,2612 2199,2631M2439,1820Q2441,1889 2402,1957M2155,1213Q2162,1306 2181,1395M2028,2176Q2060,2230 2088,2291"/>
<path fill="none" stroke="#7d4bb8" stroke-width="7" stroke-linecap="round" d="M2163,1699Q2146,1784 2125,1845M2449,2188Q2414,2214 2392,2227M2066,1539Q2056,1615 2020,1676M2175,1167Q2189,1201 2174,1235M2289,1992Q2273,2103 2251,2219M2193,2296Q2209,2386 2238,2483M2244,1807Q2221,1921 2205,2051M1985,1818Q2017,1882 2050,1945"/>
<path fill="none" stroke="#7846b3" stroke-width="6" stroke-linecap="round" d="M2304,2521Q2282,2574 2277,2625M2396,2444Q2383,2536 2396,2632M2098,1921Q2076,1969 2067,2028M2292,2485Q2265,2560 2210,2629M2243,1751Q2280,1791 2305,1831M2400,1754Q2385,1789 2387,1822M2204,1285Q2205,1324 2193,1363M2352,2029Q2321,2164 2299,2278M2052,1889Q2062,1977 2078,2069M2370,1757Q2342,1792 2315,1820M2353,1963Q2351,2019 2353,2065M2203,2225Q2198,2351 2179,2472M2095,2250Q2072,2371 2039,2486M2091,2346Q2068,2444 2031,2530M2004,1661Q2005,1766 1994,1876"/>
<path fill="none" stroke="#7443b1" stroke-width="7" stroke-linecap="round" d="M2130,916Q2116,977 2107,1023M2318,1342Q2331,1389 2346,1422M2071,2157Q2077,2222 2088,2276M2150,1595Q2150,1628 2122,1650M2400,2343Q2377,2360 2363,2398M2284,876Q2234,923 2210,960M2124,831Q2149,893 2188,946M2236,1025Q2200,1074 2187,1152M2091,2397Q2073,2448 2075,2501"/>
<path fill="none" stroke="#8553bf" stroke-width="8" stroke-linecap="round" d="M2253,1164Q2223,1255 2211,1331M2016,1383Q2068,1482 2098,1572M2169,1630Q2157,1686 2172,1746M2113,2520Q2125,2589 2112,2640M2405,2199Q2440,2292 2453,2386M2118,1275Q2122,1329 2125,1375M2227,1619Q2268,1665 2292,1707M2008,1809Q2055,1861 2119,1914M2229,2128Q2261,2185 2285,2248M2416,2483Q2430,2552 2445,2625M2046,893Q2023,953 2016,1012M2391,1430Q2355,1539 2337,1662M2377,2293Q2392,2330 2394,2360M2344,2027Q2406,2121 2430,2214M2400,1678Q2377,1709 2386,1750M2299,2286Q2319,2379 2332,2479"/>
<path fill="none" stroke="#5f309c" stroke-width="8" stroke-linecap="round" d="M2085,1092Q2059,1137 2024,1176M2118,2423Q2144,2478 2148,2544M2188,1978Q2189,2071 2181,2147M2337,1412Q2337,1453 2327,1495M2446,1472Q2407,1536 2372,1620M2441,1741Q2450,1792 2440,1844M2210,1659Q2226,1724 2262,1787M2083,2149Q2053,2273 2022,2372M2097,1312Q2146,1417 2195,1520M2172,1469Q2207,1572 2228,1667M2262,1030Q2271,1122 2284,1206M2044,1479Q2051,1572 2032,1672M2439,2407Q2435,2439 2452,2473M2333,1807Q2344,1839 2355,1883M2028,1931Q1998,2056 1997,2175M2208,1588Q2186,1716 2154,1840M2136,2250Q2121,2319 2092,2372M2404,1353Q2418,1412 2447,1463"/>
<path fill="none" stroke="#7443b1" stroke-width="11" stroke-linecap="round" d="M2141,923Q2179,986 2190,1052M2004,1419Q2059,1502 2103,1589M2196,2567Q2190,2606 2174,2635M2082,1110Q2041,1215 2006,1295M2227,2477Q2185,2526 2107,2586"/>
<path fill="none" stroke="#7d4bb8" stroke-width="11" stroke-linecap="round" d="M2337,1056Q2365,1129 2371,1200M2121,2302Q2177,2407 2229,2529M2268,1808Q2310,1876 2332,1940M2264,859Q2234,942 2205,1033"/>
<path fill="none" stroke="#8553bf" stroke-width="9" stroke-linecap="round" d="M2154,1289Q2199,1395 2250,1510M2260,2273Q2274,2371 2314,2472M2238,2044Q2242,2117 2250,2167M2182,892Q2245,992 2297,1099M2143,2512Q2137,2559 2104,2587M2191,2447Q2245,2529 2261,2609"/>
<path fill="none" stroke="#8553bf" stroke-width="6" stroke-linecap="round" d="M2139,2029Q2158,2155 2168,2287M2427,1311Q2414,1334 2406,1377M2162,2088Q2173,2167 2173,2235M2166,1782Q2197,1875 2220,1945M2230,929Q2161,1041 2103,1154M2365,2009Q2359,2053 2342,2106M2453,826Q2388,910 2341,990M2339,2361Q2321,2405 2301,2462"/>
<path fill="none" stroke="#552789" stroke-width="10" stroke-linecap="round" d="M2210,1671Q2211,1732 2177,1808M2144,873Q2218,948 2308,1017M2410,1813Q2387,1918 2368,2037M2014,1036Q2000,1082 2015,1146M2335,826Q2349,878 2348,924M2435,2506Q2430,2556 2406,2631M2093,1044Q2108,1084 2098,1150M2221,1924Q2335,1970 2438,2022M2274,1536Q2247,1643 2194,1747M2398,831Q2381,939 2374,1043"/>
<path fill="none" stroke="#8553bf" stroke-width="11" stroke-linecap="round" d="M2416,2485Q2426,2516 2449,2544M2178,2209Q2194,2261 2193,2327M2304,1997Q2351,2092 2384,2174M2147,1055Q2129,1181 2070,1303M2258,2381Q2293,2488 2325,2620"/>
<path fill="none" stroke="#7443b1" stroke-width="9" stroke-linecap="round" d="M2275,1134Q2257,1200 2229,1271M2158,1942Q2168,2053 2161,2152M2299,1713Q2348,1822 2410,1944M2284,2427Q2246,2530 2203,2630M2379,2529Q2381,2583 2384,2633M2335,2123Q2315,2192 2296,2242M2103,819Q2068,878 2048,934M2434,1045Q2441,1079 2431,1118"/>
<path fill="none" stroke="#6a3aa7" stroke-width="7" stroke-linecap="round" d="M2221,1172Q2193,1227 2179,1300M2202,2519Q2165,2569 2114,2600M2316,2112Q2333,2156 2339,2190M2325,2351Q2333,2460 2351,2576M2102,1249Q2094,1303 2087,1378M2368,935Q2378,1029 2374,1132"/>
<path fill="none" stroke="#40206f" stroke-width="7" stroke-linecap="round" d="M2125,1642l-2,26M2074,1086l-9,31M2379,1829l-2,20M2304,1756l-2,29M2098,1929l6,26M2415,1363l4,32M2288,2459l8,14M2075,962l-7,16M2242,2003l-7,14M2296,1508l-8,41M2359,1319l-0,22M2271,1818l-5,14M2284,2193l4,32M2081,1112l11,32M2108,2304l-8,38M2127,2248l-1,21M2173,2071l-12,24M2195,1519l-5,29M2387,912l9,36M2181,1299l0,28M2373,1513l9,26M2385,1857l2,18M2060,1899l-7,15M2187,2138l-10,37M2144,2584l-2,24M2192,1634l6,16M2083,2178l-1,41M2384,1291l2,39M2130,2423l-9,37M2138,2392l-6,14M2293,915l-12,28M2427,1109l6,33M2270,1341l-17,16M2035,1407l-2,41M2416,1835l-15,37M2214,2511l-2,24M2133,1161l9,37M2142,863l-5,14M2158,1427l-12,28M2422,2191l12,14M2320,873l3,23M2252,1130l-6,25M2025,1820l3,33M2078,1187l-13,19M2296,1799l2,23M2063,2241l-4,23M2162,1168l-8,23M2108,1842l8,15M2248,2541l1,27M2097,2230l-15,30M2318,973l19,33M2325,2073l-1,20M2187,1661l14,25M2379,1006l-5,32M2223,1419l4,29M2339,1630l1,31M2385,859l-20,30M2193,1412l3,16M2082,1532l7,18M2318,1664l9,38M2173,2247l11,35M2263,1710l-12,33M2355,1860l6,32M2334,1080l15,35M2378,2609l2,34M2106,2136l1,29M2389,2420l3,14M2380,2450l-2,36M2123,1590l-3,23M2355,1048l-4,14M2376,1954l-2,35M2366,841l5,14M2013,1864l-13,24M2214,1254l-3,26M2125,1776l9,20M2134,2052l-20,27M2148,1598l3,38M2204,2336l10,40M2441,1867l-8,19M2340,2482l-11,28M2278,1420l6,18M2406,2129l12,18M2089,2102l7,22M2335,2259l-13,38M2356,1679l3,36M2375,1544l3,20M2266,947l-8,35M2079,879l0,33M2353,1300l-8,14M2087,1856l3,17M2406,1725l14,24M2420,1566l2,18M2281,1790l11,20M2367,1289l-9,40M2206,1988l6,20M2131,2155l10,25M2160,1223l15,38M2295,1812l4,14M2328,1137l9,33M2281,1375l-14,39M2294,1362l-8,29M2432,1987l11,18M2293,1946l15,35M2063,2517l-17,34M2395,1076l6,32M2423,1874l-6,23M2212,2297l1,29M2363,1580l-4,26M2198,910l0,41M2132,1282l-9,23M2140,2010l-8,21M2251,2101l-11,34M2200,938l-13,31M2083,1448l-4,19M2402,1176l-2,38M2017,861l28,27M2209,1719l-3,23M2173,1343l-0,30M2342,1893l1,25M2147,2264l-3,35M2168,2548l-7,24M2437,2393l9,31M2103,2188l13,34M2371,1169l-13,25M2237,1400l12,26M2085,1630l-6,29M2409,1604l-5,19M2325,963l-2,19M2261,2423l-1,15M2149,1204l1,27M2365,2349l14,25M2071,1726l-9,14M2221,2054l2,33M2298,2475l13,31M2373,1450l2,26M2308,983l5,28M2171,2154l-3,25M2146,2313l6,30M2232,2188l6,18M2330,1025l-10,27M2319,1284l17,25M2386,2284l5,30M2080,2474l-10,27M2223,1777l-1,25M2307,1358l-8,27M2136,1232l1,35M2051,1528l15,35M2259,1658l-8,19M2180,2363l-2,26M2347,1664l-6,30M2063,2197l7,22M2155,2313l-3,40M2306,2355l-2,36M2313,1955l18,23M2058,2199l-2,16M2166,1153l2,21M2248,1093l-3,24M2328,1166l7,28M2170,2373l2,30M2062,1936l11,23M2312,2481l11,16M2150,1336l-1,16M2340,1913l10,32M2083,1122l-12,33M2019,902l-1,18M2353,1366l11,32M2406,1447l-4,38M2087,1173l9,29M2323,1063l-2,38M2331,1628l-4,15M2072,1334l-5,29M2330,2484l14,21M2199,1577l-2,31M2409,1037l-3,26M2402,1544l-8,31M2380,1153l7,26M2416,1815l5,41M2326,1507l-1,16M2312,2540l18,17M2194,2534l9,38M2415,2444l-4,16M2358,982l-13,27M2211,1353l-7,32M2170,2284l-9,28M2410,908l12,24M2341,1789l-2,22M2227,1503l5,21M2441,1764l19,20M2037,1308l-0,14M2277,1942l-15,23M2278,1708l11,36M2244,2475l-1,24M2223,2449l-4,34M2012,1824l2,27M2380,1610l0,37M2355,2069l6,41M2053,2265l21,24M2235,1284l-3,30M2347,1219l11,29M2159,1379l3,16M2273,1622l27,31M2095,2519l-1,21M2286,1568l-13,28M2246,1242l-13,14M2211,860l-13,23M2146,1467l1,35M2311,1160l-4,17M2037,1449l-6,36M2133,2284l-0,35M2234,1923l4,38"/>
<path fill="none" stroke="#7d4bb8" stroke-width="10" stroke-linecap="round" d="M2070,2035Q2091,2086 2091,2141M2276,964Q2319,1074 2364,1174M2155,2390Q2173,2512 2196,2631M2075,2286Q2072,2381 2111,2476M2330,2105Q2344,2173 2334,2236M2067,2251Q2074,2294 2104,2370M2330,2523Q2337,2580 2350,2632M2392,1380Q2427,1496 2447,1607M2264,2023Q2317,2120 2364,2233M2321,995Q2339,1085 2353,1157M2155,2058Q2153,2126 2141,2184"/>
<path fill="none" stroke="#6736a3" stroke-width="11" stroke-linecap="round" d="M2316,1628Q2345,1665 2339,1716M2267,2486Q2273,2558 2292,2626M2403,2514Q2380,2561 2367,2633M2402,2002Q2388,2035 2379,2075M2052,1394Q2088,1450 2111,1494"/>
<path fill="none" stroke="#5f309c" stroke-width="7" stroke-linecap="round" d="M2201,1265Q2199,1316 2206,1383M2386,2363Q2385,2483 2374,2617M2167,2303Q2145,2338 2137,2393M2154,1853Q2114,1896 2077,1926M2097,1434Q2095,1521 2118,1619M2228,1589Q2210,1650 2190,1716"/>
<path fill="none" stroke="#5f309c" stroke-width="8" stroke-linecap="round" d="M1995,1906Q2011,2013 2026,2104M2105,2198Q2071,2325 2047,2439M2152,2396Q2151,2424 2167,2462M2135,2265Q2105,2383 2101,2498M2416,1965Q2420,2084 2418,2212M2222,2342Q2197,2443 2155,2547M2091,858Q2098,905 2077,932M2141,2210Q2155,2323 2159,2444M2257,2204Q2247,2247 2271,2301M2447,2016Q2440,2049 2427,2085M2232,1904Q2221,2005 2215,2106M2156,2479Q2161,2547 2143,2611M2346,2235Q2344,2255 2351,2298M2017,1891Q2040,1980 2058,2074M2270,1692Q2303,1811 2326,1919M2215,819Q2226,882 2237,939M2408,2175Q2382,2278 2351,2399M2237,1360Q2203,1426 2177,1506M2072,2569Q2075,2619 2067,2637"/>
<path fill="none" stroke="#6a3aa7" stroke-width="6" stroke-linecap="round" d="M2246,2049Q2211,2181 2161,2293M2064,2292Q2044,2411 2045,2537M2263,1382Q2242,1459 2203,1534M2122,897Q2118,945 2112,986M2221,819Q2283,877 2329,933M2413,830Q2407,909 2372,974M2397,2124Q2421,2214 2416,2309M2441,1864Q2437,1985 2416,2104M2244,816Q2226,851 2227,886M2416,1890Q2400,1963 2416,2002M2271,1279Q2235,1361 2214,1413M2191,1224Q2195,1293 2187,1354"/>
<path fill="none" stroke="#8553bf" stroke-width="10" stroke-linecap="round" d="M2391,1515Q2387,1538 2414,1584M2329,1839Q2322,1960 2346,2093M2314,1067Q2303,1124 2294,1169M2261,2575Q2300,2602 2357,2632M2089,1882Q2124,1954 2173,2032M1985,1821Q2022,1920 2052,2014M2410,2348Q2351,2377 2315,2396M2087,1678Q2092,1751 2105,1835M2211,1122Q2201,1189 2171,1249M2016,2162Q2043,2258 2067,2385M2348,1196Q2359,1243 2375,1292"/>
<path fill="none" stroke="#8d5bc5" stroke-width="6" stroke-linecap="round" d="M2384,2338Q2350,2371 2327,2408M2030,1770Q2028,1803 1996,1829M2245,1589Q2229,1713 2241,1833M2163,2331Q2195,2383 2175,2438M2362,1165Q2372,1249 2390,1339M2187,1317Q2182,1371 2183,1416M2454,2452Q2424,2543 2395,2632M2449,1072Q2415,1179 2342,1269M2419,847Q2419,892 2431,948M2078,1930Q2059,2040 2044,2142M2183,2302Q2163,2331 2135,2375M2410,831Q2402,902 2396,947"/>
<path fill="none" stroke="#8d5bc5" stroke-width="10" stroke-linecap="round" d="M2229,2327Q2180,2396 2117,2456M2308,2131Q2325,2238 2354,2348M2435,1184Q2379,1220 2375,1258"/>
<path fill="none" stroke="#9362c9" stroke-width="10" stroke-linecap="round" d="M2081,1614Q2097,1648 2119,1681M2232,1329Q2190,1454 2161,1550M2300,1304Q2387,1357 2448,1417M2144,1426Q2131,1468 2114,1506M2126,2547Q2126,2599 2138,2640M2376,1256Q2438,1312 2445,1353M2419,1659Q2429,1730 2433,1810M2327,1127Q2334,1240 2370,1336M2436,1901Q2420,1939 2427,1984M2118,1665Q2112,1763 2135,1848M2139,2150Q2092,2245 2029,2355M2147,976Q2129,1008 2103,1048M2170,1840Q2154,1870 2154,1901"/>
<path fill="none" stroke="#5f309c" stroke-width="9" stroke-linecap="round" d="M2019,1904Q2008,1959 1995,1992M2435,2382Q2422,2442 2441,2527M2138,2252Q2125,2364 2101,2484M2106,2307Q2111,2442 2131,2556M2235,1671Q2186,1730 2130,1819M2330,1616Q2315,1731 2320,1843M2250,996Q2273,1058 2330,1099M2071,813Q2044,896 2046,949M2404,1886Q2440,1898 2452,1920M2027,966Q2026,1040 2008,1126M2404,2422Q2415,2473 2433,2531M2429,1187Q2443,1243 2454,1304M2422,1648Q2374,1705 2317,1769"/>
<path fill="none" stroke="#5f309c" stroke-width="10" stroke-linecap="round" d="M2301,1209Q2251,1289 2203,1361M2293,1263Q2278,1313 2269,1369M2149,945Q2112,1038 2069,1126M2318,2417Q2317,2450 2330,2492M2110,1999Q2096,2038 2104,2092M2047,2330Q2029,2360 2022,2385M2060,811Q2079,856 2104,890M2213,1758Q2191,1807 2204,1855M2056,1130Q2114,1223 2164,1337M2292,1605Q2238,1674 2176,1757"/>
<path fill="none" stroke="#9362c9" stroke-width="9" stroke-linecap="round" d="M2139,1444Q2136,1556 2151,1679M2114,894Q2147,959 2165,1023M2306,1979Q2245,2090 2173,2190M2334,2306Q2385,2437 2422,2549M2125,1927Q2133,1994 2112,2076M2008,1269Q2045,1345 2078,1426"/>
<path fill="none" stroke="#7443b1" stroke-width="10" stroke-linecap="round" d="M2132,1806Q2109,1875 2097,1960M2328,1597Q2318,1694 2307,1799"/>
<path fill="none" stroke="#6a3aa7" stroke-width="9" stroke-linecap="round" d="M2260,1178Q2334,1221 2395,1265M2345,1855Q2335,1951 2333,2040M2378,2571Q2403,2597 2424,2629M2344,1576Q2346,1625 2360,1676M2127,1849Q2083,1906 2047,1975M2171,1653Q2221,1760 2233,1878M2001,1810Q2047,1904 2071,1989M2378,2089Q2337,2171 2319,2247M2347,1476Q2336,1514 2333,1564"/>
<path fill="none" stroke="#6736a3" stroke-width="6" stroke-linecap="round" d="M2234,2410Q2254,2512 2291,2626M2145,2332Q2125,2395 2104,2454M2088,2179Q2076,2278 2062,2371M2156,2371Q2136,2430 2129,2482M2129,1454Q2094,1498 2109,1540M2438,2372Q2436,2479 2431,2565M2216,2370Q2275,2471 2318,2572M2224,1602Q2292,1677 2354,1748M2429,1788Q2428,1857 2435,1924M2116,1611Q2070,1734 2043,1856M2378,1601Q2414,1659 2409,1715M2095,1143Q2109,1280 2118,1396"/>
<path fill="none" stroke="#9362c9" stroke-width="7" stroke-linecap="round" d="M2071,1469Q2067,1549 2061,1613M2217,1013Q2217,1082 2196,1146M2439,1291Q2448,1326 2449,1356M2048,2275Q2040,2340 2024,2407M2179,1234Q2195,1331 2204,1440M2195,1534Q2182,1629 2182,1717M2189,1119Q2214,1208 2248,1305M2441,827Q2399,892 2380,985"/>
<path fill="none" stroke="#8d5bc5" stroke-width="8" stroke-linecap="round" d="M2449,2382Q2458,2480 2443,2562M2165,1502Q2188,1539 2172,1571M2089,1151Q2098,1198 2106,1250M2335,1590Q2263,1686 2206,1760M2268,2430Q2231,2486 2199,2560M2119,2090Q2129,2209 2132,2315M2443,1569Q2386,1630 2330,1671M2169,1969Q2172,2047 2144,2142M2072,1817Q2064,1879 2077,1942M2280,2345Q2257,2404 2256,2459M2374,1523Q2406,1614 2447,1709M2228,1375Q2245,1488 2292,1591M2380,1200Q2411,1230 2404,1270M2308,881Q2270,993 2231,1099M2034,1960Q2042,2066 2056,2181M2037,2197Q2033,2303 2022,2432M2090,816Q2045,875 1982,942"/>
<path fill="none" stroke="#9362c9" stroke-width="6" stroke-linecap="round" d="M2265,2209Q2285,2276 2304,2348M2047,2379Q2038,2435 2024,2477M2409,2237Q2387,2330 2378,2422M2061,1359Q2079,1430 2082,1498M2348,1378Q2331,1444 2284,1517M2336,2023Q2359,2113 2369,2198M2086,1116Q2095,1237 2127,1357M2049,1152Q2044,1246 2031,1329M2342,827Q2325,871 2297,899M2449,1962Q2440,2041 2413,2138M1991,2046Q2021,2113 2050,2193M2247,1011Q2268,1115 2278,1216M2096,2326Q2080,2448 2042,2571"/>
<path fill="none" stroke="#9362c9" stroke-width="11" stroke-linecap="round" d="M2079,1864Q2085,1961 2095,2068M1984,900Q2058,977 2081,1073M2209,2444Q2236,2526 2239,2607M2048,1927Q2052,1950 2068,1993M2202,1280Q2212,1362 2216,1460M2332,1822Q2398,1934 2440,2043M2143,2368Q2134,2473 2109,2596"/>
<path fill="none" stroke="#6736a3" stroke-width="7" stroke-linecap="round" d="M2205,999Q2266,1113 2329,1207M2125,910Q2128,992 2134,1084M2052,1654Q2051,1760 2047,1885M2341,2274Q2354,2372 2359,2457M2249,1511Q2206,1588 2174,1657M2435,1752Q2433,1832 2453,1894M2363,2414Q2360,2445 2348,2478M2075,813Q2087,835 2106,864"/>
<path fill="none" stroke="#7443b1" stroke-width="11" stroke-linecap="round" d="M2145,1432Q2135,1543 2132,1658M2121,2520Q2140,2542 2120,2580M2408,2350Q2345,2435 2270,2509M2175,1892Q2150,1969 2132,2040M2205,1898Q2233,1985 2261,2062M2446,1527Q2397,1637 2350,1748M2379,912Q2390,1029 2414,1146M2112,934Q2137,1004 2174,1061"/>
<path fill="none" stroke="#8553bf" stroke-width="8" stroke-linecap="round" d="M2175,1495Q2191,1585 2184,1658M2364,1882Q2370,1925 2382,1962M2306,1556Q2280,1674 2271,1786M2378,831Q2368,885 2377,931M2057,1522Q2051,1575 2056,1648M2344,1901Q2370,1952 2391,1987M2095,1775Q2119,1842 2124,1908M2244,1588Q2244,1719 2250,1848M1996,956Q2035,1003 2060,1041M2215,2043Q2205,2107 2220,2166M2073,1455Q2084,1505 2060,1540M2392,1695Q2382,1799 2375,1889M2410,1104Q2424,1139 2440,1177M2283,2193Q2329,2313 2370,2431M2181,1965Q2180,2055 2164,2150M2311,2407Q2315,2436 2321,2466M2309,1436Q2327,1476 2342,1505M2322,1156Q2314,1189 2326,1216"/>
<path fill="none" stroke="#6a3aa7" stroke-width="8" stroke-linecap="round" d="M2063,2153Q2051,2281 2044,2409M2307,2233Q2307,2339 2301,2459M2198,1439Q2216,1479 2199,1517M2002,1358Q2037,1472 2063,1575M2118,2094Q2119,2159 2152,2220M2315,1140Q2351,1223 2387,1320M2097,2433Q2125,2494 2139,2563M2064,1826Q2105,1931 2137,2046M2441,2499Q2419,2568 2402,2631M2176,2495Q2121,2553 2058,2621M2328,1143Q2309,1252 2290,1371M1995,2126Q2011,2172 2017,2225M2293,1647Q2338,1703 2368,1760M2416,1257Q2405,1378 2380,1489M2152,1080Q2180,1144 2177,1198M2359,2161Q2384,2241 2388,2320M2280,2005Q2314,2066 2331,2120M2220,1414Q2211,1470 2192,1503M2366,1378Q2380,1432 2409,1504M2069,2499Q2078,2570 2068,2637"/>
<path fill="none" stroke="#8553bf" stroke-width="7" stroke-linecap="round" d="M2307,1344Q2258,1473 2223,1586M2064,1370Q2130,1409 2200,1468M2347,1813Q2357,1853 2363,1890M2128,1067Q2109,1127 2083,1182M2291,1120Q2273,1170 2264,1202M2116,821Q2115,894 2108,961M2270,2068Q2290,2121 2272,2155M2060,1629Q2114,1726 2168,1821"/>
<path fill="none" stroke="#7443b1" stroke-width="8" stroke-linecap="round" d="M2407,1023Q2395,1055 2389,1094M2247,1186Q2236,1254 2196,1320M2333,2270Q2333,2307 2349,2340M2109,820Q2092,912 2054,1009M2293,1206Q2292,1316 2261,1438M2264,1313Q2266,1334 2260,1377M2228,1639Q2249,1750 2248,1839M2008,899Q2004,932 2021,963M2449,1610Q2424,1727 2388,1843M2370,1401Q2374,1518 2361,1629M2010,889Q2026,922 2035,952M2341,2520Q2356,2569 2354,2611M2306,1361Q2237,1407 2180,1472M2422,2120Q2365,2222 2327,2333M2206,1957Q2186,2003 2161,2049M2179,969Q2187,995 2171,1037M2023,2027Q2052,2059 2063,2086M2310,1826Q2342,1927 2351,2026"/>
<path fill="none" stroke="#8553bf" stroke-width="6" stroke-linecap="round" d="M2408,1665Q2443,1711 2456,1765M2337,920Q2294,997 2255,1090M2258,2359Q2270,2392 2285,2419M2105,2171Q2136,2240 2152,2303M2420,1382Q2440,1492 2447,1608M2302,1727Q2337,1784 2355,1841M2384,2187Q2342,2286 2285,2377M2249,941Q2213,1068 2183,1190M2151,1040Q2149,1079 2164,1111"/>
<path fill="none" stroke="#552789" stroke-width="7" stroke-linecap="round" d="M2189,1292Q2183,1368 2203,1448M2446,1513Q2380,1583 2328,1634M2174,851Q2132,925 2074,1019M2265,819Q2224,848 2195,865M2119,1190Q2092,1294 2081,1418M2430,1817Q2424,1850 2409,1892M2206,1409Q2176,1492 2161,1548M2098,1091Q2134,1140 2172,1178M2244,816Q2297,911 2348,1010M2242,1303Q2322,1395 2388,1486"/>
<path fill="none" stroke="#7846b3" stroke-width="9" stroke-linecap="round" d="M2147,1039Q2120,1082 2089,1129M2128,956Q2178,984 2211,1013M2087,1468Q2107,1544 2085,1596M2259,2415Q2230,2517 2197,2606M2299,819Q2278,879 2258,953M2292,1955Q2356,2043 2407,2132M2145,1416Q2190,1503 2230,1590M2249,1268Q2256,1396 2257,1517M2306,999Q2334,1125 2357,1249"/>
<path fill="none" stroke="#552789" stroke-width="8" stroke-linecap="round" d="M2313,2355Q2241,2472 2204,2591M2324,1013Q2292,1063 2245,1142M2128,2272Q2123,2307 2119,2354M2349,1581Q2359,1618 2371,1656M2171,1207Q2148,1326 2132,1435M2431,1469Q2410,1533 2388,1593M2185,1692Q2192,1810 2207,1932M2231,1730Q2239,1768 2234,1810M2398,1424Q2424,1506 2448,1597M2206,1670Q2215,1715 2217,1750"/>
<path fill="none" stroke="#7d4bb8" stroke-width="8" stroke-linecap="round" d="M2227,1860Q2246,1887 2265,1923M2138,1584Q2047,1658 1983,1731M2108,839Q2118,875 2145,904M2419,1812Q2404,1900 2401,1967M2313,1520Q2283,1609 2238,1695M2179,1508Q2211,1592 2216,1660M2260,1562Q2266,1607 2276,1639M2018,895Q2021,954 2029,1018M2099,1801Q2091,1892 2055,1986M2381,1809Q2405,1845 2389,1883M2263,2294Q2285,2317 2286,2367M2373,2472Q2283,2538 2203,2598M2288,2133Q2235,2224 2189,2310M2086,815Q2091,895 2103,969M2187,1810Q2198,1875 2200,1945M2244,2454Q2207,2532 2201,2630M2337,842Q2328,970 2324,1089M2054,1356Q2019,1469 2009,1568"/>
<path fill="none" stroke="#552789" stroke-width="9" stroke-linecap="round" d="M2169,948Q2211,1065 2204,1186M2327,2040Q2333,2162 2331,2277M2307,1237Q2224,1318 2160,1383M2398,1903Q2365,1982 2330,2058M2061,2019Q2023,2134 2011,2250M2171,2102Q2173,2233 2158,2348M2263,1731Q2264,1831 2279,1921M2131,1201Q2205,1254 2313,1294"/>
<path fill="none" stroke="#6736a3" stroke-width="10" stroke-linecap="round" d="M2406,948Q2430,1070 2441,1184M2306,1323Q2324,1400 2347,1484M2262,2280Q2218,2354 2197,2430M2239,914Q2272,998 2309,1065M2392,1221Q2400,1291 2422,1356M2311,989Q2312,1080 2305,1170M2202,1549Q2194,1597 2203,1657M2165,1407Q2182,1447 2189,1482"/>
<path fill="none" stroke="#6736a3" stroke-width="8" stroke-linecap="round" d="M2158,862Q2191,900 2200,942M2022,2053Q2026,2176 2018,2291M2125,1961Q2138,2029 2177,2106M2196,1748Q2219,1848 2252,1948M2325,1886Q2297,1997 2285,2112M2222,2218Q2215,2267 2201,2325M2079,1201Q2035,1252 2005,1299M2036,2153Q2067,2233 2083,2319M2371,1814Q2410,1834 2453,1892M2375,1497Q2388,1531 2385,1565M2008,1705Q2083,1815 2132,1907M2369,2432Q2360,2473 2372,2493M2297,1893Q2286,2001 2295,2089M2011,1533Q2075,1583 2138,1633M2433,1104Q2422,1164 2434,1234M2242,1088Q2275,1211 2314,1322M2168,1716Q2228,1742 2284,1767M2409,831Q2381,874 2334,916M2388,1825Q2379,1869 2367,1914M2081,1315Q2066,1366 2039,1412M2451,1832Q2437,1870 2431,1915M2106,1017Q2076,1093 2046,1152M2048,1129Q2041,1230 2035,1337M2057,2118Q2090,2214 2144,2308"/>
<path fill="none" stroke="#8d5bc5" stroke-width="9" stroke-linecap="round" d="M2212,1128Q2229,1170 2231,1221M2138,2510Q2117,2571 2089,2639M2111,999Q2119,1057 2133,1111M1996,1935Q2007,1990 2037,2038M2323,884Q2360,987 2381,1065M2233,2103Q2198,2164 2169,2234M2333,881Q2261,949 2180,1002M2403,1723Q2424,1818 2452,1916M2319,1053Q2320,1176 2327,1302"/>
<path fill="none" stroke="#6a3aa7" stroke-width="10" stroke-linecap="round" d="M2344,1892Q2361,2002 2371,2108M2034,1786Q2099,1884 2171,1990M2058,1844Q2113,1941 2132,2039M2257,1191Q2245,1256 2235,1316M2309,2303Q2363,2324 2437,2341M2248,2046Q2209,2104 2192,2148M2108,2405Q2131,2499 2148,2582"/>
<path fill="none" stroke="#7d4bb8" stroke-width="7" stroke-linecap="round" d="M2391,1390Q2377,1498 2338,1613M2174,824Q2148,865 2151,904M2419,1171Q2432,1249 2422,1336M2343,1715Q2298,1804 2240,1901M2230,1948Q2217,1987 2206,2050M2009,2241Q2028,2294 2055,2337"/>
<path fill="none" stroke="#552789" stroke-width="6" stroke-linecap="round" d="M2359,2015Q2359,2077 2374,2129M2342,1355Q2349,1416 2325,1472M2073,1811Q2109,1905 2134,2008M2173,968Q2200,1072 2227,1178M2131,1523Q2110,1570 2106,1613M2297,1579Q2313,1705 2309,1825"/>
<path fill="none" stroke="#552789" stroke-width="11" stroke-linecap="round" d="M2037,1323Q2038,1376 2017,1434M2174,1908Q2203,1978 2193,2073M2229,2360Q2236,2399 2261,2434M2094,900Q2107,987 2099,1071M2450,2282Q2429,2399 2427,2537M2342,1773Q2342,1874 2346,1985M2352,1607Q2370,1717 2390,1822"/>
<path fill="none" stroke="#7846b3" stroke-width="6" stroke-linecap="round" d="M2198,1915Q2185,1999 2176,2068M2373,978Q2391,1103 2401,1229M2347,2220Q2343,2332 2354,2440M2317,1026Q2289,1111 2281,1193M2033,1966Q2022,2041 2015,2105M2439,2315Q2449,2388 2445,2456M2333,2259Q2322,2321 2315,2363M2369,1091Q2406,1140 2427,1189"/>
<path fill="none" stroke="#7d4bb8" stroke-width="9" stroke-linecap="round" d="M2156,1721Q2181,1783 2195,1830M2087,1833Q2107,1866 2129,1902M2060,2401Q2040,2435 2024,2477M2055,1050Q2063,1095 2066,1149M2109,1227Q2081,1286 2074,1328"/>
<path fill="none" stroke="#8d5bc5" stroke-width="11" stroke-linecap="round" d="M2264,1361Q2273,1392 2271,1434M2066,1235Q2038,1339 2006,1439M2030,1955Q2044,1989 2040,2018M2410,1403Q2421,1445 2442,1499M2310,1043Q2330,1091 2360,1153M2186,823Q2227,889 2260,954M2292,2502Q2332,2560 2363,2600M2184,1143Q2208,1191 2189,1224M2194,2043Q2195,2130 2191,2217M2264,2294Q2228,2358 2200,2412M2072,1274Q2062,1376 2034,1469"/>
<path fill="none" stroke="#9362c9" stroke-width="8" stroke-linecap="round" d="M2007,1611Q2040,1719 2096,1817M2167,1292Q2244,1359 2317,1454M2107,1314Q2092,1391 2086,1465M2280,1712Q2249,1760 2232,1802M2362,2085Q2337,2166 2298,2265M2205,1316Q2170,1412 2120,1500M1985,1705Q2025,1761 2052,1814M2135,2472Q2130,2564 2104,2640M2206,1078Q2192,1202 2150,1331M2207,2075Q2223,2157 2240,2224M2026,1242Q2040,1368 2062,1493M2381,1966Q2382,2046 2367,2124M2031,1914Q2011,1945 1995,1981"/>
<path fill="none" stroke="#7443b1" stroke-width="7" stroke-linecap="round" d="M2314,1581Q2289,1675 2259,1757M2192,2312Q2209,2367 2189,2432M2451,1370Q2384,1435 2325,1517M2251,2181Q2255,2249 2289,2338M2370,1623Q2365,1675 2360,1731M2170,2206Q2168,2302 2156,2400M2232,1502Q2243,1570 2268,1624M2114,1488Q2091,1581 2090,1672M2307,1137Q2316,1170 2315,1207M2294,1106Q2372,1199 2455,1283"/>
<path fill="none" stroke="#7443b1" stroke-width="6" stroke-linecap="round" d="M2184,2338Q2189,2416 2196,2499M2456,1251Q2347,1292 2267,1328M2386,877Q2401,903 2411,937M2416,1962Q2398,2062 2364,2162M2373,1878Q2371,1991 2380,2079M2141,961Q2169,1022 2212,1073M2355,2467Q2375,2548 2392,2632M2318,1853Q2326,1895 2333,1916M1997,1928Q1997,2011 2007,2083M2289,1581Q2280,1625 2285,1660"/>
<path fill="none" stroke="#7846b3" stroke-width="11" stroke-linecap="round" d="M2249,1940Q2201,2043 2157,2144M2433,1808Q2408,1895 2384,2000M2193,930Q2226,1048 2261,1141M2371,2408Q2377,2438 2392,2464M2032,1740Q2059,1867 2074,1992M2123,1929Q2097,1974 2099,2024M2228,2491Q2245,2547 2266,2624M2012,1085Q2066,1164 2114,1258M2071,2115Q2068,2163 2074,2226M2035,2240Q2034,2287 2045,2336"/>
<path fill="none" stroke="#7d4bb8" stroke-width="11" stroke-linecap="round" d="M2220,1324Q2240,1356 2243,1398M2422,2154Q2403,2263 2419,2352M2099,2375Q2102,2435 2110,2513M2236,2479Q2321,2551 2398,2614M2399,2536Q2372,2584 2353,2623M2151,2293Q2124,2398 2112,2481"/>
<path fill="none" stroke="#5f309c" stroke-width="6" stroke-linecap="round" d="M2397,1432Q2425,1474 2432,1538M2281,2609Q2250,2625 2196,2631M2283,2216Q2195,2269 2099,2333M2347,1019Q2304,1140 2268,1242M2118,1645Q2097,1688 2089,1739M2280,2311Q2286,2410 2293,2521M2424,2324Q2454,2450 2448,2561M2092,817Q2061,869 2031,911M2120,1819Q2209,1869 2295,1907"/>
<path fill="none" stroke="#6736a3" stroke-width="9" stroke-linecap="round" d="M2424,2342Q2421,2423 2424,2504M2115,1630Q2129,1697 2133,1773M2311,1084Q2254,1188 2196,1294M2022,2339Q2058,2410 2092,2493M2184,973Q2268,1035 2377,1094M2174,2526Q2156,2583 2132,2640M2453,1693Q2397,1760 2376,1837M2103,2159Q2144,2205 2185,2254M2121,1891Q2165,1964 2203,2053"/>
<path fill="none" stroke="#8d5bc5" stroke-width="7" stroke-linecap="round" d="M2171,875Q2172,914 2155,965M2396,2200Q2385,2245 2405,2273M2004,1598Q2049,1701 2070,1804M1996,1951Q2051,2039 2129,2118M2197,1040Q2215,1143 2237,1230M2417,830Q2425,856 2447,893M2371,2062Q2365,2158 2349,2234"/>
<path fill="none" stroke="#8553bf" stroke-width="9" stroke-linecap="round" d="M2393,1829Q2416,1919 2447,1997M2291,923Q2304,1008 2317,1104M2174,824Q2175,848 2200,880M2172,876Q2150,985 2100,1094"/>
<path fill="none" stroke="#8553bf" stroke-width="11" stroke-linecap="round" d="M2105,1372Q2094,1399 2068,1448M2322,2384Q2350,2464 2350,2538M2237,817Q2245,840 2230,849M2061,2399Q2057,2460 2070,2524M2261,1066Q2234,1100 2240,1141"/>
<path fill="none" stroke="#6a3aa7" stroke-width="7" stroke-linecap="round" d="M2022,1532Q2076,1586 2128,1634M2246,1176Q2263,1237 2253,1289M2439,1431Q2429,1499 2423,1573M2079,1855Q2082,1941 2080,2033M2003,1406Q2036,1489 2050,1584"/>
<path fill="none" stroke="#7846b3" stroke-width="7" stroke-linecap="round" d="M2161,825Q2151,842 2151,876M2456,1255Q2415,1328 2367,1385M2090,966Q2086,1053 2094,1122M2084,1192Q2124,1278 2155,1376M2207,1367Q2180,1426 2157,1499"/>
<path fill="none" stroke="#6a3aa7" stroke-width="11" stroke-linecap="round" d="M2033,1085Q2051,1116 2067,1166M2394,1165Q2391,1186 2398,1229M2079,814Q2062,833 2056,855M2397,831Q2379,843 2353,862M2171,1178Q2157,1246 2195,1312M2122,1369Q2085,1486 2043,1607M2329,2099Q2328,2194 2323,2280M2452,2370Q2434,2430 2384,2484M2106,2568Q2104,2602 2089,2634"/>
<path fill="none" stroke="#7846b3" stroke-width="10" stroke-linecap="round" d="M2327,1743Q2375,1849 2408,1953M2215,1319Q2205,1415 2164,1512M2381,1680Q2373,1719 2366,1758M2272,2017Q2264,2142 2260,2273M2075,1628Q2049,1702 2022,1776M2182,2254Q2130,2355 2083,2465"/>
<path fill="none" stroke="#552789" stroke-width="10" stroke-linecap="round" d="M2110,2094Q2104,2145 2115,2203M2100,1375Q2077,1480 2066,1572M2355,1395Q2334,1518 2324,1648M2252,2314Q2226,2354 2246,2407M2222,1966Q2232,2004 2245,2049M2430,958Q2432,1060 2448,1158"/>
<path fill="none" stroke="#7846b3" stroke-width="8" stroke-linecap="round" d="M2113,2350Q2112,2382 2118,2424M2313,1323Q2333,1360 2336,1394M2056,874Q2077,907 2072,936M2297,1517Q2295,1591 2320,1686M2213,2486Q2207,2562 2191,2632M2286,2164Q2272,2238 2264,2295M2212,1420Q2218,1467 2229,1514M2173,2273Q2162,2309 2157,2332M2046,1509Q2075,1617 2076,1711M2074,2318Q2094,2335 2125,2364M2079,2356Q2089,2412 2098,2479M2168,2259Q2173,2324 2145,2390M2064,1397Q2050,1466 2037,1526M2129,1060Q2100,1117 2058,1169M2113,1554Q2091,1594 2093,1620M2412,2354Q2427,2476 2447,2591M2106,1924Q2066,1926 2027,1957M2326,1324Q2313,1423 2313,1518M2366,1933Q2311,1974 2238,2008M2211,2473Q2254,2491 2269,2516M2379,2451Q2400,2510 2396,2563M2061,1902Q2123,1986 2184,2072"/>
<path fill="none" stroke="#7443b1" stroke-width="9" stroke-linecap="round" d="M2084,1857Q2071,1930 2059,1979M2095,2163Q2098,2203 2079,2230M2147,1015Q2145,1057 2130,1092M2334,1952Q2266,1996 2212,2035M2049,1484Q2090,1502 2136,1525M2035,1597Q2041,1690 2051,1786M2022,2409Q2037,2468 2072,2543M2074,2421Q2092,2491 2092,2584M1990,2060Q2058,2161 2097,2272M2065,1254Q2087,1303 2087,1350M2020,1268Q2020,1312 2015,1365M2034,998Q2026,1053 2006,1114"/>
<path fill="none" stroke="#5f309c" stroke-width="11" stroke-linecap="round" d="M2102,1184Q2103,1273 2091,1358M2113,1161Q2115,1282 2106,1395M2144,2422Q2129,2429 2138,2485M2113,871Q2123,924 2100,956M2201,2488Q2212,2561 2225,2627M2402,1145Q2380,1221 2379,1314"/>
<path fill="none" stroke="#7d4bb8" stroke-width="6" stroke-linecap="round" d="M2231,1963Q2228,2068 2225,2174M2160,1150Q2172,1194 2184,1229M2407,1454Q2418,1529 2448,1591M2270,1880Q2265,1993 2244,2135M2258,2042Q2250,2156 2274,2292"/>
<path fill="none" stroke="#40206f" stroke-width="6" stroke-linecap="round" d="M2182,2089l3,41M2029,1688l1,17M2067,1115l3,16M2234,2433l15,37M2311,1107l-9,26M2023,1642l-8,33M2199,1198l-7,30M2425,1295l0,23M2058,2287l-4,35M2343,2147l-0,28M2243,895l13,30M2069,1626l-15,19M2157,1266l7,24M2358,1202l4,36M2310,2592l-2,32M2384,2230l-3,31M2026,1082l2,15M2372,1281l-15,19M2141,1804l-7,12M2228,1240l7,34M2043,1828l-4,31M2121,1251l6,40M2418,1213l1,24M2418,895l2,20M2204,1660l14,20M2379,2305l-11,34M2365,1518l6,24M2340,1540l10,38M2401,1175l3,22M2396,2509l4,37M2082,917l13,18M2236,1140l7,14M2401,1795l-1,29M2331,1910l-5,21M2044,2419l-3,17M2174,1592l-3,15M2325,2052l8,19M2100,2352l-8,25M2088,2313l2,24M2252,1807l8,38M2125,997l2,27M2178,1587l-1,27M2168,1508l27,24M2314,2344l2,28M2354,1848l-10,23M2160,1577l8,20M2176,1064l-6,18M2435,2492l11,37M2153,1683l-11,35M2385,1905l-0,28M2220,957l6,36M2282,1151l-15,26M2040,2160l4,22M2337,2450l11,34M2287,1487l-3,23M2351,1417l-7,31M2133,1930l-4,20M2258,1040l17,36M2136,2549l1,25M2432,1631l1,18M2377,2318l10,22M2430,2152l-15,18M2331,2599l-5,26M2297,1560l6,26M2173,1048l7,28M2320,848l7,40M2267,1161l4,23M2011,863l1,24M2308,1538l-3,27M2090,1561l-6,22M2395,1495l13,23M2054,2487l-1,17M2156,1330l6,25M2179,2354l-28,24M2209,1682l-4,30M2294,2351l-1,22M2066,1481l15,31M2136,1001l5,36M2287,2126l-3,20M2400,1584l-5,20M2140,1569l-15,38M2216,1977l-4,15M2388,1906l6,14M2344,1120l-21,31M2116,2026l1,40M2183,2074l-9,35M2104,1121l3,16M2223,2497l0,26M2061,906l-3,35M2431,1597l5,13M2088,1384l-4,19M2258,2271l-5,14M2087,1527l8,33M2088,1088l-5,15M2299,1824l-5,25M2387,980l-10,30M2122,2106l-18,24M2231,2188l-7,12M2177,925l1,18M2074,2228l-17,32M2178,1949l4,37M2351,962l6,30M2201,2192l-2,30M2031,1075l-5,41M2184,1942l7,16M2396,1517l2,35M2312,1948l-0,32M2207,2112l-0,15M2193,2531l-0,24M2219,1274l4,24M2329,1190l2,41M2103,1564l-3,30M2089,2081l-0,19M2355,1373l6,14M2438,2284l1,27M2194,1832l18,38M2149,2268l10,31M2361,1333l-5,22M2202,917l2,20M2267,1746l-8,13M2126,1182l13,24M2217,1068l-2,37M2430,2098l-8,24M2207,1925l6,34M2307,2583l2,27M2278,2585l1,34M2258,2516l-5,15M2230,1505l-9,37M2148,902l-9,27M2118,1537l-4,31M2033,1824l-17,35M2327,2421l1,35M2285,1737l-6,39M2398,930l-9,16M2081,1893l-8,41M2359,1004l2,41M2217,1761l6,34M2133,2381l19,35M2242,1355l8,39M2354,2544l-7,17M2099,1568l-1,31M2267,1225l-0,21M2339,1636l0,40M2358,2520l1,18M2376,2172l11,19M2133,1525l2,22M2422,2417l-2,16M2080,966l-10,29M2154,1943l9,26M2218,1496l8,27M2153,1234l-3,24M2392,2582l-5,33M2107,2018l-13,34M2053,1907l6,39M2058,1634l-14,38M2178,1364l-9,32M2128,1852l14,39M2149,1003l-4,18M2427,2546l-21,28M2367,2456l7,13M2243,1228l-25,32M2264,1604l5,23M2149,2387l-13,18M2251,1104l15,30M2160,2331l-4,41M2236,2316l10,39M2240,1336l1,41M2088,955l-5,17M2051,1940l4,37M2406,2511l2,30M2375,1343l1,24M2256,1060l-8,35M2143,1370l-8,41M2067,2181l5,16M2133,1725l4,25M2252,1961l4,30M2312,1761l1,14M2052,886l1,23M2192,2585l1,18M2393,2606l-7,30M2374,1702l-12,16M2029,2052l12,38M2391,1633l5,25M2247,1857l10,32M2321,2237l-2,27M2328,909l3,14M2096,1967l-3,17M2157,1971l-7,23M2214,2467l-10,24M2286,1765l6,13M2262,1585l6,26M2375,1638l16,28M2433,1790l4,28M2309,1709l16,38M2060,1592l9,32M2155,1878l13,37M2152,2605l2,25M2409,2530l-4,30M2067,913l-2,34M2276,2047l-1,39M2089,1205l-1,20M2168,1383l-5,41M2305,1706l3,35M2417,1092l-6,39M2110,1311l2,14M2074,1134l-4,26M2086,2202l-10,22M2136,1114l-20,32M2260,1461l-12,39M2371,1239l-3,21"/>
<path fill="#7e52bc" d="M2148,1387L2162,1389L2154,1422L2144,1419ZM2048,935L2062,923L2082,976L2063,978ZM2390,934L2409,929L2420,947L2401,961ZM2029,2151L2035,2135L2050,2169L2033,2163ZM2379,1041L2392,1034L2402,1077L2390,1076ZM2333,1925L2356,1926L2319,1972L2314,1952ZM2330,2087L2345,2087L2346,2115L2330,2115ZM2397,1302L2414,1303L2427,1330L2415,1344ZM2115,1097L2130,1091L2154,1125L2147,1135ZM2413,1286L2431,1276L2425,1333L2409,1320ZM2390,1110L2408,1120L2386,1153L2370,1141ZM2282,2444L2293,2445L2293,2487L2286,2489ZM2048,1592L2064,1597L2058,1636L2041,1639ZM2257,1517L2271,1505L2295,1547L2277,1553ZM2411,1206L2428,1215L2437,1246L2425,1263ZM2158,1475L2178,1473L2160,1532L2147,1520ZM2398,2343L2418,2342L2414,2379L2399,2376ZM2147,2149L2157,2159L2149,2195L2139,2202ZM2369,1334L2383,1333L2370,1364L2361,1356ZM2099,1930L2114,1927L2104,1969L2094,1958ZM2319,1663L2330,1678L2316,1700L2301,1699ZM2275,1840L2287,1825L2320,1861L2304,1870ZM2201,2565L2223,2574L2229,2600L2213,2617ZM2370,836L2388,846L2383,880L2364,888ZM2066,1973L2081,1980L2080,2007L2065,2011ZM2079,1071L2101,1079L2108,1095L2094,1116ZM2441,1874L2446,1892L2401,1910L2391,1897ZM2343,1798L2365,1798L2379,1824L2369,1843ZM2140,1348L2151,1361L2141,1394L2123,1398ZM2292,2133L2312,2132L2329,2160L2319,2175ZM2219,1955L2232,1946L2237,1990L2220,1983ZM2081,1371L2095,1367L2107,1399L2090,1404ZM2130,2588L2139,2578L2154,2617L2139,2617ZM2077,2125L2079,2146L2066,2157L2045,2156ZM2058,2370L2070,2385L2066,2416L2046,2424ZM2336,942L2353,949L2317,995L2308,982ZM2230,992L2240,1012L2224,1042L2206,1047ZM2266,1430L2270,1414L2300,1465L2286,1460ZM2292,1186L2303,1181L2326,1209L2319,1218ZM2249,2426L2265,2421L2263,2459L2245,2452ZM2274,1380L2293,1388L2301,1434L2285,1447ZM2372,2138L2384,2124L2392,2189L2376,2177ZM2194,1734L2210,1731L2193,1789L2179,1776ZM2370,1928L2384,1937L2347,1973L2337,1961Z"/>
<path fill="#774ab6" d="M2158,2487L2177,2476L2168,2544L2153,2530ZM2245,1399L2261,1412L2260,1425L2246,1441ZM2236,2173L2250,2173L2242,2228L2230,2226ZM2190,1881L2210,1887L2216,1899L2205,1919ZM2247,1868L2255,1849L2284,1881L2266,1888ZM2170,1193L2188,1192L2198,1214L2183,1227ZM2155,1239L2169,1257L2164,1279L2141,1285ZM2122,1509L2138,1515L2117,1547L2104,1536ZM2282,2548L2294,2548L2279,2592L2269,2583ZM2065,1570L2082,1568L2091,1590L2075,1600ZM2105,1861L2123,1869L2096,1915L2079,1904ZM2192,2178L2208,2175L2219,2228L2199,2231ZM2215,1810L2226,1813L2217,1864L2208,1864ZM2090,1329L2103,1334L2095,1364L2085,1363ZM2190,2426L2203,2414L2197,2452L2188,2437ZM2198,1568L2214,1561L2215,1610L2198,1603ZM2043,2010L2065,2012L2074,2036L2064,2052ZM2061,924L2081,924L2036,960L2040,942ZM2158,1720L2175,1715L2167,1751L2150,1737ZM2104,2404L2118,2413L2098,2436L2087,2424ZM2323,1551L2327,1569L2311,1580L2297,1574ZM2251,973L2267,974L2277,1008L2269,1017ZM2356,862L2373,866L2367,891L2353,887ZM2210,2276L2228,2268L2244,2320L2224,2324ZM2361,1371L2378,1360L2364,1428L2357,1413ZM2354,1752L2370,1759L2365,1803L2346,1804ZM2177,2019L2198,2022L2161,2069L2154,2050ZM2348,1737L2350,1750L2319,1774L2308,1771ZM2015,2013L2036,2019L2043,2066L2027,2078ZM2230,2489L2248,2488L2229,2520L2221,2506ZM2379,2032L2399,2039L2410,2084L2392,2098ZM2112,2356L2124,2361L2117,2403L2108,2405ZM2018,1839L2027,1819L2050,1883L2030,1873ZM2195,1368L2208,1373L2203,1417L2194,1419ZM2009,1892L2025,1895L2050,1930L2053,1943ZM2263,2400L2283,2391L2274,2441L2258,2426ZM2305,1145L2313,1156L2295,1182L2285,1181ZM2039,2102L2057,2094L2066,2130L2048,2130ZM2273,2183L2277,2163L2302,2209L2281,2203ZM2133,2171L2147,2176L2162,2215L2151,2228ZM2010,1735L2021,1732L2028,1756L2016,1757ZM2341,2378L2358,2380L2358,2414L2336,2414ZM2301,843L2315,853L2306,895L2293,900ZM2065,1741L2082,1734L2090,1766L2076,1769ZM2317,1687L2338,1687L2354,1725L2337,1740ZM2106,1490L2119,1492L2109,1542L2094,1537ZM2324,1936L2343,1939L2335,1994L2315,1990ZM2240,1333L2260,1333L2269,1340L2267,1361ZM2296,2484L2310,2476L2322,2527L2302,2526ZM2120,1730L2132,1746L2123,1765L2102,1768ZM2129,2491L2143,2502L2135,2540L2119,2545ZM2246,1680L2252,1696L2241,1710L2226,1709ZM2316,958L2335,953L2326,988L2313,977Z"/>
<path fill="#9469cd" d="M2334,1254L2346,1267L2314,1300L2301,1290ZM2062,1695L2071,1676L2095,1740L2075,1732ZM2335,1689L2351,1673L2359,1719L2337,1708ZM2342,1178L2357,1176L2348,1214L2336,1204ZM2056,1760L2066,1770L2046,1801L2035,1798ZM2424,1818L2415,1837L2391,1843L2373,1837ZM2391,1988L2408,1973L2417,2042L2398,2031ZM2429,1196L2421,1212L2411,1218L2393,1209ZM2272,2432L2285,2434L2300,2480L2289,2489ZM2155,1811L2177,1800L2165,1862L2150,1844ZM2348,1495L2362,1484L2372,1534L2355,1530ZM2140,1355L2152,1359L2141,1392L2127,1389ZM2057,1119L2070,1116L2095,1157L2091,1166ZM2119,1334L2135,1332L2133,1364L2115,1358ZM2035,1372L2041,1356L2057,1394L2043,1387ZM2290,1254L2304,1268L2304,1281L2291,1297ZM2148,1411L2164,1413L2170,1448L2157,1456ZM2092,2379L2103,2377L2104,2408L2097,2407ZM2345,2495L2343,2479L2373,2498L2356,2504ZM2175,1659L2190,1644L2203,1698L2183,1693ZM2204,1356L2212,1338L2250,1396L2229,1395ZM2353,2014L2365,2025L2361,2040L2349,2047ZM2209,1736L2221,1752L2199,1791L2179,1786ZM2206,2020L2218,2029L2220,2051L2212,2062ZM2173,1312L2191,1311L2215,1346L2214,1360ZM2157,1134L2173,1129L2173,1174L2154,1169ZM2376,1360L2397,1352L2385,1397L2370,1377ZM2409,1631L2422,1627L2425,1665L2414,1664ZM2051,2136L2072,2141L2075,2156L2063,2171ZM2134,2452L2149,2443L2144,2486L2133,2474ZM2079,1139L2096,1135L2102,1181L2083,1183ZM2268,2510L2288,2496L2288,2546L2269,2531ZM2120,1428L2133,1435L2104,1460L2101,1450ZM2263,2072L2271,2084L2265,2106L2249,2112ZM2295,1849L2309,1849L2306,1880L2291,1877ZM2348,1781L2364,1774L2340,1819L2337,1804ZM2069,1960L2084,1953L2085,2014L2069,2008ZM2337,1589L2346,1606L2328,1646L2313,1653ZM2043,1042L2061,1038L2054,1078L2040,1068ZM2299,1912L2316,1922L2313,1952L2296,1960ZM2102,2228L2116,2228L2088,2286L2080,2275ZM2364,1062L2375,1077L2370,1120L2353,1132ZM2162,1651L2182,1656L2149,1703L2136,1686ZM2398,2303L2402,2284L2433,2342L2413,2336ZM2321,1903L2334,1922L2327,1964L2303,1974ZM2131,1074L2141,1062L2153,1098L2140,1096ZM2415,1614L2428,1598L2435,1645L2418,1634ZM2285,1557L2299,1562L2298,1584L2283,1587Z"/>
<path fill="#875ac3" d="M2124,2455L2141,2466L2139,2505L2123,2514ZM2201,1231L2222,1220L2216,1284L2198,1269ZM2420,2267L2435,2273L2437,2308L2418,2314ZM2249,2404L2266,2407L2226,2432L2231,2416ZM2127,1489L2145,1476L2138,1527L2126,1509ZM2306,1603L2318,1589L2327,1628L2307,1619ZM2370,1711L2380,1690L2416,1746L2396,1746ZM2086,1797L2102,1790L2124,1817L2113,1833ZM2151,1084L2165,1101L2162,1113L2146,1126ZM2238,1309L2253,1319L2221,1341L2218,1324ZM2109,1068L2124,1058L2141,1077L2128,1088ZM2391,926L2412,923L2394,956L2384,938ZM2109,2198L2123,2183L2136,2252L2116,2242ZM2147,2304L2156,2287L2198,2298L2198,2317ZM2151,2009L2169,2019L2166,2041L2147,2049ZM2144,1300L2145,1276L2176,1301L2156,1305ZM2235,1740L2249,1746L2197,1766L2202,1749ZM2044,889L2062,894L2043,945L2030,940ZM2128,1222L2129,1206L2183,1234L2171,1244ZM2054,1302L2070,1290L2081,1325L2064,1327ZM2307,1558L2322,1552L2334,1589L2314,1592ZM2122,1565L2133,1585L2114,1617L2089,1615ZM2171,2000L2184,2011L2183,2031L2167,2040ZM2072,1605L2086,1588L2100,1658L2079,1648ZM2327,2232L2347,2231L2356,2268L2342,2278ZM2203,1721L2218,1721L2216,1749L2201,1749ZM2157,1373L2175,1373L2176,1421L2158,1421ZM2222,1271L2242,1264L2252,1276L2251,1295ZM2363,1115L2373,1108L2398,1163L2384,1165ZM2128,861L2141,860L2141,895L2127,892ZM2364,2371L2374,2361L2396,2377L2387,2390ZM2383,2498L2400,2490L2393,2549L2380,2538ZM2085,2433L2100,2435L2111,2447L2103,2463ZM2409,2003L2430,2012L2438,2048L2421,2063ZM2224,2383L2242,2383L2242,2432L2223,2431ZM2211,1099L2231,1102L2242,1146L2221,1156ZM2180,1569L2190,1589L2181,1604L2161,1612ZM2423,1964L2442,1964L2424,2003L2413,1988ZM2374,1552L2389,1550L2406,1575L2400,1588ZM2198,1630L2211,1628L2201,1679L2193,1674ZM2417,1750L2429,1744L2441,1780L2423,1782ZM2328,1854L2335,1835L2361,1864L2341,1867ZM2254,1615L2277,1610L2306,1637L2305,1659Z"/>
<path fill="#8e63c9" d="M2374,2527L2394,2540L2392,2550L2377,2567ZM2245,1323L2261,1324L2277,1359L2264,1372ZM2265,1723L2286,1724L2266,1755L2257,1734ZM2194,2364L2206,2377L2201,2411L2189,2422ZM2321,1097L2336,1083L2351,1119L2327,1118ZM2274,974L2287,981L2289,1011L2278,1021ZM2077,1488L2096,1504L2093,1543L2077,1559ZM2311,2004L2323,2014L2313,2057L2294,2059ZM2192,1389L2205,1382L2210,1430L2197,1425ZM2076,1574L2092,1579L2091,1602L2070,1601ZM2260,1818L2279,1816L2258,1876L2244,1864ZM2324,1547L2334,1560L2317,1588L2301,1586ZM2096,1589L2106,1597L2103,1617L2091,1620ZM2148,1673L2162,1686L2163,1701L2146,1716ZM2190,909L2201,926L2197,939L2179,944ZM2098,1492L2116,1490L2105,1549L2090,1538ZM2205,1113L2223,1109L2225,1146L2205,1145ZM2258,1071L2274,1076L2268,1116L2255,1117ZM2225,1188L2243,1190L2210,1243L2203,1230ZM2369,1656L2377,1668L2353,1708L2339,1708ZM2231,1330L2246,1333L2263,1372L2259,1384ZM2035,2168L2051,2158L2059,2224L2038,2217ZM2249,1255L2266,1251L2271,1283L2251,1283ZM2403,1366L2415,1360L2422,1390L2409,1390ZM2416,1813L2437,1806L2429,1870L2412,1859ZM2290,2176L2301,2182L2290,2210L2277,2207ZM2289,980L2291,1003L2257,1029L2237,1022ZM2248,1069L2268,1073L2248,1108L2233,1095ZM2391,1666L2409,1674L2420,1702L2408,1720ZM2356,2334L2374,2334L2382,2358L2362,2369ZM2144,2374L2156,2379L2148,2417L2136,2418ZM2301,2322L2311,2311L2326,2348L2311,2346ZM2171,2574L2191,2579L2191,2626L2171,2629ZM2092,1642L2112,1642L2085,1693L2074,1677ZM2384,1287L2402,1277L2398,1331L2381,1316ZM2034,1648L2049,1656L2052,1674L2035,1684ZM2054,893L2070,906L2058,948L2032,946ZM2129,879L2147,876L2142,922L2126,915ZM2303,1918L2317,1921L2325,1951L2318,1962ZM2148,1409L2163,1397L2189,1410L2191,1426ZM2362,1829L2381,1818L2384,1853L2360,1843ZM2117,2487L2131,2473L2129,2515L2113,2497Z"/>
<path fill="none" stroke="#7549b6" stroke-width="6" stroke-linecap="round" d="M2076,832l-14,-46M2372,849l21,-60M2416,848l8,-34M2088,834l0,-58M2173,842l-37,-59M2375,849l-5,-59M2022,827l-2,-61M2377,849l12,-60M2156,843l-7,-60M2395,849l4,-39M2048,828l10,-31M2395,849l-6,-64M2364,848l6,-41M2050,828l-1,-58M2058,829l7,-49M2050,828l2,-59M2054,828l3,-61M2356,847l6,-53M2167,842l-26,-53M2337,844l1,-39M2218,837l-5,-33M2267,834l8,-65M2067,830l6,-37M2317,840l-14,-62M2300,837l-5,-61M2337,844l6,-32M2233,2608l7,37M2084,2621l-1,60M2341,2613l-4,65M2284,2607l-3,45M2170,2618l10,67M2304,2609l3,46M2093,2622l-16,62M2376,2615l6,39M2236,2608l5,59M2213,2610l24,59M2292,2608l-7,51M2360,2614l10,45M2318,2610l-5,42M2326,2611l-19,66M2307,2609l10,44M2329,2612l9,35M2194,2614l9,45M2198,2613l18,53M2239,2607l10,35M2419,2611l-5,44M2295,2608l-6,52M2424,2611l5,53M2060,2618l6,43M2295,2608l-2,34M2103,2622l32,60M2311,2610l-6,37M2310,2610l4,53M2234,2608l-17,60M2231,2608l3,44M2097,2622l-10,41M2095,2622l18,56M2179,2616l-15,50M2343,2613l1,39M2089,2621l-20,60M2314,2610l6,38M2248,2607l-15,61M2330,2612l-13,45M2297,2608l2,60M2242,2607l10,42M2357,2614l13,61M2188,2615l0,57M2362,2614l3,62M1987,2119l0,89M2018,2351l1,76M1994,2058l-18,54M1979,963l-16,76M1987,2008l-9,60M2022,2310l11,33M1996,1097l-8,54M2049,2611l1,68M1998,1324l0,46M1992,1890l-16,40M2001,1334l6,70M1995,1614l-9,51M2036,2551l-7,34M1993,1989l2,34M1990,854l9,80M2024,2503l14,66M1990,823l2,36M2010,1256l1,84M1988,2109l-2,54M1985,974l-11,64M2002,1607l5,64M2009,1167l-15,81M1989,1917l-8,80M2005,1130l-9,86M1999,1406l26,51M2012,1143l-4,30M2011,1488l-12,43M1981,1827l12,62M1988,1862l-5,41M2008,1105l4,44M2003,1101l1,47M1993,1966l4,51M2012,1545l8,42M2002,1439l-11,59M1988,2102l-2,51M2021,2468l-5,32M2014,2296l-11,78"/>
<path fill="none" stroke="#6a3eaa" stroke-width="8" stroke-linecap="round" d="M2325,842l-5,-37M2329,843l-8,-63M2357,847l-17,-57M2174,842l-25,-61M2420,848l-6,-47M2336,844l-1,-69M2221,837l-16,-51M2068,830l15,-56M2174,842l-15,-63M2428,847l-8,-42M2268,834l-8,-34M2096,835l-2,-32M2107,838l7,-33M2422,848l-4,-71M2271,834l-11,-67M2201,839l-6,-40M2352,846l-13,-68M2104,837l9,-71M2025,827l7,-31M2069,830l-4,-68M2386,849l-10,-42M2103,837l9,-45M2442,845l-6,-67M2136,842l1,-50M2076,832l-9,-57M2372,849l-0,-66M2370,849l-16,-61M2034,827l10,-48M2050,828l25,-68M2172,842l-3,-72M2080,832l-2,-47M2253,834l-8,-37M2411,849l3,-58M2256,834l11,-51M2092,2621l14,50M2183,2616l-22,48M2061,2618l-16,53M2252,2607l-9,60M2191,2614l-5,45M2349,2614l13,68M2168,2618l4,65M2358,2614l1,35M2087,2621l-14,68M2205,2612l4,44M2066,2619l-20,54M2374,2615l5,58M2158,2620l4,36M2265,2606l7,33M2433,2609l13,44M2117,2622l8,44M2090,2621l-4,46M2140,2621l-3,66M2407,2613l4,39M2310,2610l0,40M2297,2608l-2,36M2144,2621l-16,66M2108,2622l9,43M2246,2607l1,64M2229,2608l1,42M2140,2622l-4,42M2214,2610l-11,61M2340,2613l4,35M2424,2611l9,67M2139,2622l-6,65M2294,2608l-18,53M2145,2621l-17,64M2415,2612l4,53M2107,2622l4,51M2343,2613l15,42M2113,2622l7,39M2154,2620l10,44M2388,2614l1,39M1994,2140l11,64M1992,1948l-17,53M1987,1832l-4,32M2003,1598l5,73M2004,1103l2,39M1984,1722l-3,32M1987,2141l-2,71M1993,1676l-7,70M2017,2469l8,42M1981,969l-5,46M1989,873l-17,76M2014,2294l-4,59M2011,1127l-3,38M2008,1132l-11,48M2001,1432l3,66M2013,1481l17,62M2014,1523l-10,77M2014,1152l-4,36M1998,1329l-16,46M1999,1390l1,34M1985,1002l-1,34M2005,1591l-3,70M2001,2210l14,79M2045,2570l0,87M1995,2170l-9,78M1990,1045l4,67M2005,1099l-10,78M2003,1439l-14,55M1998,2187l1,87M2012,1534l4,37M1997,1943l11,43M2002,1383l5,33M1986,2049l9,47"/>
<linearGradient id="cone" gradientUnits="userSpaceOnUse" x1="2273" y1="0" x2="3520" y2="0">
<stop offset="0" stop-color="#eef7fa" stop-opacity="0.3"/><stop offset="0.12" stop-color="#eaf6fa" stop-opacity="0.6"/>
<stop offset="0.182" stop-color="#dcf0f7" stop-opacity="0.92"/><stop offset="0.342" stop-color="#c9e9f3"/>
<stop offset="0.503" stop-color="#bee5f1"/><stop offset="0.663" stop-color="#d7eef6"/>
<stop offset="0.824" stop-color="#e6f2f9" stop-opacity="0.8"/><stop offset="0.944" stop-color="#e8f2f9" stop-opacity="0.4"/><stop offset="1" stop-color="#eef3fa" stop-opacity="0"/></linearGradient>
<polygon points="2273,1220 3525,957 3526,968 3453,1098 3393,1222 3374,1292 3324,1370 3228,1448 3163,1552 3099,1656 3090,1662" fill="url(#cone)"/>

<polygon points="3816,495 3760,585 3692,641 3606,725 3597,792 3563,865 3513,961 3440,1090 3380,1215 3361,1284 3311,1363 3215,1441 3150,1545 3086,1649 3030,1789 2963,1890 2924,1985 2919,2064 2863,2136 2798,2251 2815,2290 2899,2361 2960,2395 3025,2400 3087,2277 3132,2204 3171,2136 3227,2041 3261,1912 3317,1828 3384,1755 3465,1649 3470,1548 3507,1458 3591,1407 3613,1368 3650,1284 3701,1129 3709,1062 3805,972 3813,938 3894,837 3973,736 4029,635 4074,529 4060,512 4029,560 3990,640 3900,600 3847,546" fill="#8d8d8d" stroke="#878787" stroke-width="3" stroke-linejoin="round"/>
<polygon points="3766,588 3698,644 3612,728 3603,796 3569,868 3519,964 3446,1094 3386,1218 3367,1288 3317,1366 3221,1444 3156,1548 3092,1652 3036,1792 2969,1894 2930,1988 2925,2068 2869,2140 2804,2254 2830,2285 2905,2345 2965,2375 3010,2378 3071,2268 3116,2195 3155,2127 3211,2032 3245,1903 3301,1819 3368,1746 3449,1640 3454,1539 3491,1449 3575,1398 3597,1359 3634,1275 3685,1120 3693,1053 3789,963 3797,929 3878,828 3957,727 4013,626 4058,520" fill="#b8b8b8" filter="url(#b2)"/>
<polygon points="3772,592 3704,648 3618,732 3609,799 3575,872 3525,968 3452,1097 3392,1222 3373,1291 3323,1370 3227,1448 3162,1552 3098,1656 3042,1796 2975,1897 2936,1992 2931,2071 2875,2143 2810,2258 2827,2268 2892,2153 2948,2081 2953,2002 2992,1907 3059,1806 3115,1666 3179,1562 3244,1458 3340,1380 3390,1301 3409,1232 3469,1107 3542,978 3592,882 3626,809 3635,742 3721,658 3789,602" fill="#9c9c9c" filter="url(#b3)"/>
<polygon points="3816,495 3847,546 3790,600 3760,585" fill="#9a9a9a"/>
<polyline points="3768,590 3700,646 3614,730 3605,796 3571,870 3521,966 3448,1094 3388,1220 3369,1288 3319,1368 3223,1446 3158,1550 3094,1654 3038,1794 2971,1894 2932,1990 2927,2068 2871,2140 2806,2256" fill="none" stroke="#c8c8c8" stroke-width="3" opacity="0.8" filter="url(#b2)"/>
<clipPath id="tubeclip"><polygon points="3816,495 3760,585 3692,641 3606,725 3597,792 3563,865 3513,961 3440,1090 3380,1215 3361,1284 3311,1363 3215,1441 3150,1545 3086,1649 3030,1789 2963,1890 2924,1985 2919,2064 2863,2136 2798,2251 2815,2290 2899,2361 2960,2395 3025,2400 3087,2277 3132,2204 3171,2136 3227,2041 3261,1912 3317,1828 3384,1755 3465,1649 3470,1548 3507,1458 3591,1407 3613,1368 3650,1284 3701,1129 3709,1062 3805,972 3813,938 3894,837 3973,736 4029,635 4074,529 4060,512 4029,560 3990,640 3900,600 3847,546"/></clipPath><g clip-path="url(#tubeclip)">
<circle cx="3955" cy="602" r="84" fill="#6a6a6a" opacity="0.30" filter="url(#b8)"/>
<circle cx="3864" cy="664" r="87" fill="#6a6a6a" opacity="0.30" filter="url(#b8)"/>
<circle cx="3745" cy="776" r="86" fill="#6a6a6a" opacity="0.30" filter="url(#b8)"/>
<circle cx="3750" cy="861" r="84" fill="#6a6a6a" opacity="0.30" filter="url(#b8)"/>
<circle cx="3686" cy="950" r="84" fill="#6a6a6a" opacity="0.30" filter="url(#b8)"/>
<circle cx="3623" cy="1032" r="91" fill="#6a6a6a" opacity="0.30" filter="url(#b8)"/>
<circle cx="3587" cy="1145" r="86" fill="#6a6a6a" opacity="0.30" filter="url(#b8)"/>
<circle cx="3534" cy="1263" r="90" fill="#6a6a6a" opacity="0.30" filter="url(#b8)"/>
<circle cx="3448" cy="1386" r="84" fill="#6a6a6a" opacity="0.30" filter="url(#b8)"/>
<circle cx="3345" cy="1480" r="88" fill="#6a6a6a" opacity="0.30" filter="url(#b8)"/>
<circle cx="3369" cy="1580" r="86" fill="#6a6a6a" opacity="0.30" filter="url(#b8)"/>
<circle cx="3259" cy="1610" r="88" fill="#6a6a6a" opacity="0.30" filter="url(#b8)"/>
<circle cx="3312" cy="1705" r="86" fill="#6a6a6a" opacity="0.30" filter="url(#b8)"/>
<circle cx="3169" cy="1773" r="88" fill="#6a6a6a" opacity="0.30" filter="url(#b8)"/>
<circle cx="3141" cy="1876" r="88" fill="#6a6a6a" opacity="0.30" filter="url(#b8)"/>
<circle cx="3064" cy="2021" r="88" fill="#6a6a6a" opacity="0.30" filter="url(#b8)"/>
<circle cx="3108" cy="2081" r="86" fill="#6a6a6a" opacity="0.30" filter="url(#b8)"/>
<circle cx="2968" cy="2176" r="88" fill="#6a6a6a" opacity="0.30" filter="url(#b8)"/>
<circle cx="2985" cy="2289" r="88" fill="#6a6a6a" opacity="0.30" filter="url(#b8)"/>
</g>
<circle cx="3945" cy="590" r="88" fill="url(#gP)"/>
<circle cx="3854" cy="652" r="91" fill="url(#gP)"/>
<circle cx="3740" cy="849" r="88" fill="url(#gP)"/>
<circle cx="3735" cy="764" r="90" fill="url(#gP)"/>
<circle cx="3676" cy="938" r="88" fill="url(#gP)"/>
<circle cx="3613" cy="1020" r="95" fill="url(#gP)"/>
<circle cx="3577" cy="1133" r="90" fill="url(#gP)"/>
<circle cx="3524" cy="1251" r="94" fill="url(#gP)"/>
<circle cx="3438" cy="1374" r="88" fill="url(#gP)"/>
<circle cx="3335" cy="1468" r="92" fill="url(#gP)"/>
<circle cx="3249" cy="1598" r="92" fill="url(#gP)"/>
<circle cx="3359" cy="1568" r="90" fill="url(#gP)"/>
<circle cx="3159" cy="1761" r="92" fill="url(#gP)"/>
<circle cx="3302" cy="1693" r="90" fill="url(#gP)"/>
<circle cx="3131" cy="1864" r="92" fill="url(#gP)"/>
<circle cx="3054" cy="2009" r="92" fill="url(#gP)"/>
<circle cx="2958" cy="2164" r="92" fill="url(#gP)"/>
<circle cx="3098" cy="2069" r="90" fill="url(#gP)"/>
<circle cx="2975" cy="2277" r="92" fill="url(#gP)"/>
<polygon points="2917.7,2438.6 4041.6,402.4 4085.3,426.5 4095.0,200.0 3908.5,328.9 3952.3,353.1 2828.3,2389.4" fill="#8fa9dc" opacity="0.6"/>
<polygon points="3736.5,699.7 3561.6,583.9 3577.9,559.3 3480.0,546.0 3530.4,631.0 3546.7,606.4 3721.5,722.3" fill="#7030a0"/>
<polygon points="3303.1,1800.4 3443.7,2139.6 3416.0,2151.1 3493.0,2222.0 3497.3,2117.4 3469.6,2128.9 3328.9,1789.6" fill="#8c8c8c"/>
<linearGradient id="gGry" gradientUnits="userSpaceOnUse" x1="3681" y1="1190" x2="4183" y2="1470">
<stop offset="0" stop-color="#d9d9dd" stop-opacity="0.5"/><stop offset="0.35" stop-color="#c6c6c9"/>
<stop offset="0.7" stop-color="#a6a6a6"/><stop offset="1" stop-color="#8a8a8a"/></linearGradient>
<path fill="url(#gGry)" d="M3681,1190 C3730,1186 3770,1196 3802,1209 C3850,1228 3890,1250 3924,1270 C3960,1292 4050,1340 4092,1359 L4106,1298.5 L4183,1472.6 L3999,1436 L4053.6,1406 C4030,1392 3960,1350 3924,1327 C3890,1305 3870,1292 3843,1278 C3810,1260 3780,1248 3762,1240 C3735,1228 3710,1220 3681,1217 Z"/>
<path d="M3848.3,1333.3 L4044.7,1268.5 M3912.7,1207.3 L3976.7,1403.4" stroke="#c00000" stroke-width="27" fill="none"/>
<g fill="none" stroke="#d59600" stroke-width="12" stroke-linejoin="round" stroke-linecap="round">
<path d="M1267,481 C1261,440 1247,433 1233,420 A122,122 0 1 1 1405,420 C1391,433 1377,440 1371,481 Z" fill="#f7eed9"/>
</g>
<path d="M1216,392 A104,104 0 0 1 1262,248 A112,112 0 0 0 1228,392 C1240,410 1268,428 1276,472 L1268,472 C1262,438 1232,416 1216,392 Z" fill="#ffffff"/>
<path d="M1376,248 A106,106 0 0 1 1420,394 C1404,418 1380,436 1372,470 L1364,470 C1372,430 1398,412 1410,392 A112,112 0 0 0 1376,248 Z" fill="#f0deb0"/>
<g fill="none" stroke="#d59600" stroke-width="12" stroke-linejoin="round" stroke-linecap="butt">
<circle cx="1280.5" cy="354" r="19.6"/><circle cx="1357.5" cy="354" r="19.6"/>
<path d="M1280,373.5 H1358 M1300,354 V478 M1338,354 V478"/>
</g>
<rect x="1267" y="481" width="104" height="76" fill="#f7eed9" stroke="#d59600" stroke-width="12" rx="3"/>
<rect x="1273" y="487" width="14" height="64" fill="#ffffff"/>
<rect x="1352" y="487" width="13" height="64" fill="#f0deb0"/>
<rect x="1261" y="475" width="116" height="13" fill="#d59600" rx="3"/>
<g stroke="#d59600" stroke-width="12" stroke-linecap="round" fill="none">
<path d="M1267,507 H1312 M1345,507 H1371 M1267,532 H1293 M1326,532 H1371"/>
</g>
<path d="M1283,560 L1299,580 Q1303,584 1310,584 H1328 Q1335,584 1339,580 L1355,560 Z" fill="#f7eed9" stroke="#d59600" stroke-width="12" stroke-linejoin="round"/>
<text transform="translate(1045.4,1163.0) scale(1,1.04)" font-size="108.3" fill="#000" style="letter-spacing:0.09px">Discharge</text>
<text transform="translate(1126.7,2375.0) scale(1,1.04)" font-size="108.3" fill="#000" style="letter-spacing:0.57px">Charge</text>
<text transform="translate(104.5,2948.8) scale(1,1.04)" font-size="125" fill="#000" style="letter-spacing:1.11px">Zn foil</text>
<circle cx="767.7" cy="2899" r="22.7" fill="url(#gB)"/><text transform="translate(852.6,2936.1) scale(1,1.04)" font-size="108.3" fill="#000" style="letter-spacing:0.00px">H</text>
<text transform="translate(928.1,2901.6) scale(1,1.04)" font-size="72" fill="#000" style="letter-spacing:0.00px">+</text>
<circle cx="1181.8" cy="2894.4" r="52" fill="url(#gO)"/><text transform="translate(1275.4,2931.7) scale(1,1.0)" font-size="112" fill="#000" style="letter-spacing:6.14px">Zn</text>
<text transform="translate(1417.5,2898.8) scale(1,1.04)" font-size="72" fill="#000" style="letter-spacing:0.00px">2</text>
<text transform="translate(1457.9,2899.3) scale(1,1.04)" font-size="72" fill="#000" style="letter-spacing:0.00px">+</text>
<text transform="translate(1761.8,2946.5) scale(1,1.04)" font-size="125" fill="#000" style="letter-spacing:4.59px">MnO</text>
<text transform="translate(2048.4,2971.5) scale(1,1.04)" font-size="80" fill="#000" style="letter-spacing:0.00px">x</text>
<text transform="translate(2095.8,2946.5) scale(1,1.04)" font-size="125" fill="#000" style="letter-spacing:-0.55px">-CNFs Cathode</text>
<text transform="translate(3116.3,543.0) scale(1,1.04)" font-size="110" fill="#000" style="letter-spacing:2.72px">MnO</text>
<text transform="translate(3363.8,566.6) scale(1,1.04)" font-size="73" fill="#000" style="letter-spacing:0.00px">x</text>
<text transform="translate(4076.4,1658.0) scale(1,1.0)" font-size="112" fill="#000" style="letter-spacing:1.36px">Mn</text>
<text transform="translate(4241.6,1619.7) scale(1,1.04)" font-size="68" fill="#000" style="letter-spacing:0.00px">2</text>
<text transform="translate(4281.6,1625.0) scale(1,1.04)" font-size="68" fill="#000" style="letter-spacing:0.00px">+</text>
<text transform="translate(3224.7,2384.3) scale(1,1.04)" font-size="108.3" fill="#000" style="letter-spacing:0.73px">Carbon</text>
<text transform="translate(3645.1,2384.3) scale(1,1.04)" font-size="108.3" fill="#000" style="letter-spacing:0.19px">Nanofibers</text>
<text transform="translate(3874.6,247.0) scale(1,1.04)" font-size="141.7" fill="#c55a11" style="letter-spacing:0.00px">e</text>
<rect x="3955.2" y="173" width="25.7" height="13.5" fill="#c55a11"/><text transform="translate(2805.1,2577.0) scale(1,1.04)" font-size="141.7" fill="#c55a11" style="letter-spacing:0.00px">e</text>
<rect x="2888.2" y="2502.4" width="25.9" height="13.8" fill="#c55a11"/></svg>
</body></html>
